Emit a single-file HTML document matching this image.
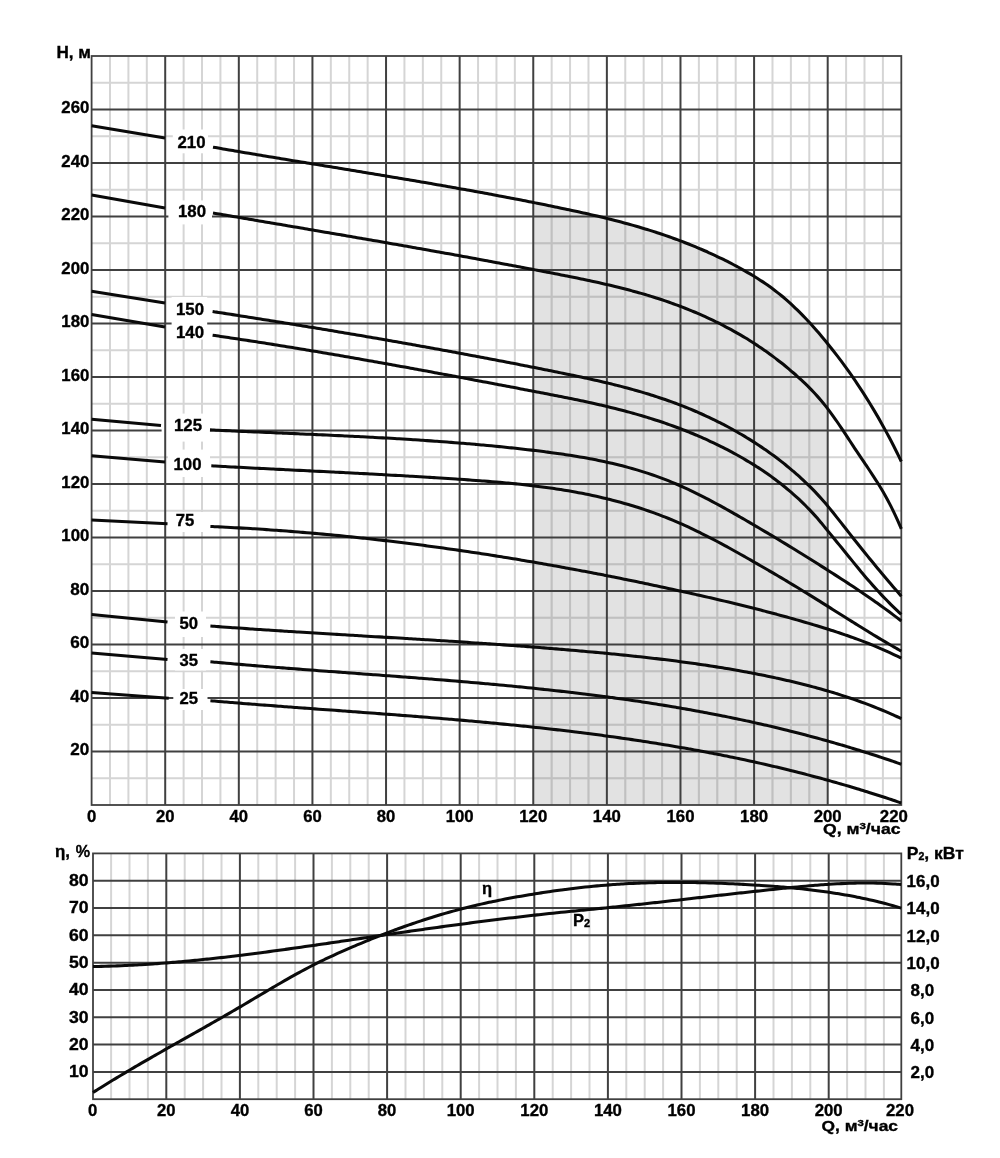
<!DOCTYPE html><html><head><meta charset="utf-8"><style>html,body{margin:0;padding:0;background:#fff;width:1000px;height:1158px;overflow:hidden}svg{display:block;filter:blur(0.55px)}</style></head><body><svg width="1000" height="1158" viewBox="0 0 1000 1158">
<rect x="0" y="0" width="1000" height="1158" fill="#fff"/>
<defs><clipPath id="shc"><path d="M213.00,147.17 C213.67,147.29 215.67,147.63 217.00,147.86 C218.34,148.09 219.67,148.33 221.00,148.56 C222.34,148.79 223.67,149.01 225.01,149.24 C226.34,149.47 227.67,149.70 229.01,149.93 C230.34,150.16 231.67,150.39 233.01,150.61 C234.34,150.84 235.68,151.07 237.01,151.29 C238.34,151.52 239.68,151.75 241.01,151.97 C242.35,152.20 243.68,152.43 245.01,152.65 C246.35,152.88 247.68,153.10 249.02,153.33 C250.35,153.55 251.68,153.78 253.02,154.00 C254.35,154.22 255.69,154.45 257.02,154.67 C258.35,154.89 259.69,155.12 261.02,155.34 C262.35,155.56 263.69,155.79 265.02,156.01 C266.36,156.23 267.69,156.45 269.02,156.67 C270.36,156.90 271.69,157.12 273.03,157.34 C274.36,157.56 275.69,157.78 277.03,158.00 C278.36,158.22 279.70,158.44 281.03,158.67 C282.36,158.89 283.70,159.11 285.03,159.33 C286.37,159.55 287.70,159.77 289.03,159.99 C290.37,160.21 291.70,160.43 293.03,160.65 C294.37,160.87 295.70,161.09 297.04,161.31 C298.37,161.52 299.70,161.74 301.04,161.96 C302.37,162.18 303.71,162.40 305.04,162.62 C306.37,162.84 307.71,163.06 309.04,163.28 C310.38,163.50 311.71,163.72 313.04,163.93 C314.38,164.15 315.71,164.37 317.05,164.59 C318.38,164.81 319.71,165.03 321.05,165.25 C322.38,165.47 323.71,165.68 325.05,165.90 C326.38,166.12 327.72,166.34 329.05,166.56 C330.38,166.78 331.72,167.00 333.05,167.21 C334.39,167.43 335.72,167.65 337.05,167.87 C338.39,168.09 339.72,168.31 341.06,168.53 C342.39,168.75 343.72,168.97 345.06,169.18 C346.39,169.40 347.73,169.62 349.06,169.84 C350.39,170.06 351.73,170.28 353.06,170.50 C354.39,170.72 355.73,170.94 357.06,171.16 C358.40,171.38 359.73,171.60 361.06,171.82 C362.40,172.04 363.73,172.26 365.07,172.48 C366.40,172.70 367.73,172.92 369.07,173.14 C370.40,173.36 371.74,173.58 373.07,173.81 C374.40,174.03 375.74,174.25 377.07,174.47 C378.41,174.69 379.74,174.91 381.07,175.14 C382.41,175.36 383.74,175.58 385.07,175.80 C386.41,176.03 387.74,176.25 389.08,176.47 C390.41,176.69 391.74,176.92 393.08,177.14 C394.41,177.37 395.75,177.59 397.08,177.81 C398.41,178.04 399.75,178.26 401.08,178.49 C402.42,178.71 403.75,178.94 405.08,179.16 C406.42,179.39 407.75,179.61 409.09,179.84 C410.42,180.07 411.75,180.29 413.09,180.52 C414.42,180.75 415.76,180.98 417.09,181.20 C418.42,181.43 419.76,181.66 421.09,181.89 C422.42,182.12 423.76,182.35 425.09,182.58 C426.43,182.81 427.76,183.04 429.09,183.27 C430.43,183.50 431.76,183.73 433.10,183.96 C434.43,184.19 435.76,184.42 437.10,184.65 C438.43,184.89 439.77,185.12 441.10,185.35 C442.43,185.58 443.77,185.82 445.10,186.05 C446.44,186.29 447.77,186.52 449.10,186.76 C450.44,186.99 451.77,187.23 453.10,187.46 C454.44,187.70 455.77,187.94 457.11,188.17 C458.44,188.41 459.77,188.65 461.11,188.89 C462.44,189.13 463.78,189.37 465.11,189.61 C466.44,189.85 467.78,190.09 469.11,190.33 C470.45,190.57 471.78,190.81 473.11,191.05 C474.45,191.29 475.78,191.54 477.12,191.78 C478.45,192.02 479.78,192.27 481.12,192.51 C482.45,192.76 483.78,193.00 485.12,193.25 C486.45,193.50 487.79,193.74 489.12,193.99 C490.45,194.24 491.79,194.49 493.12,194.74 C494.46,194.98 495.79,195.23 497.12,195.48 C498.46,195.74 499.79,195.99 501.13,196.24 C502.46,196.49 503.79,196.74 505.13,197.00 C506.46,197.25 507.80,197.50 509.13,197.76 C510.46,198.01 511.80,198.27 513.13,198.53 C514.46,198.78 515.80,199.04 517.13,199.30 C518.47,199.56 519.80,199.82 521.13,200.08 C522.47,200.34 523.80,200.60 525.14,200.86 C526.47,201.12 527.80,201.38 529.14,201.65 C530.47,201.91 531.81,202.17 533.14,202.44 C534.47,202.70 535.81,202.97 537.14,203.24 C538.48,203.50 539.81,203.77 541.14,204.04 C542.48,204.31 543.81,204.58 545.14,204.85 C546.48,205.12 547.81,205.39 549.15,205.66 C550.48,205.94 551.81,206.21 553.15,206.48 C554.48,206.76 555.82,207.03 557.15,207.31 C558.48,207.59 559.82,207.86 561.15,208.14 C562.49,208.42 563.82,208.70 565.15,208.98 C566.49,209.26 567.82,209.55 569.16,209.83 C570.49,210.12 571.82,210.40 573.16,210.69 C574.49,210.98 575.82,211.27 577.16,211.56 C578.49,211.85 579.83,212.14 581.16,212.44 C582.49,212.73 583.83,213.03 585.16,213.33 C586.50,213.63 587.83,213.93 589.16,214.24 C590.50,214.54 591.83,214.85 593.17,215.16 C594.50,215.47 595.83,215.78 597.17,216.09 C598.50,216.41 599.84,216.73 601.17,217.05 C602.50,217.37 603.84,217.69 605.17,218.02 C606.50,218.34 607.84,218.67 609.17,219.01 C610.51,219.34 611.84,219.68 613.17,220.02 C614.51,220.36 615.84,220.70 617.18,221.05 C618.51,221.39 619.84,221.74 621.18,222.10 C622.51,222.45 623.85,222.81 625.18,223.17 C626.51,223.53 627.85,223.90 629.18,224.27 C630.52,224.64 631.85,225.01 633.18,225.39 C634.52,225.77 635.85,226.15 637.18,226.54 C638.52,226.93 639.85,227.32 641.19,227.72 C642.52,228.11 643.85,228.52 645.19,228.92 C646.52,229.33 647.86,229.74 649.19,230.15 C650.52,230.57 651.86,230.99 653.19,231.42 C654.53,231.84 655.86,232.27 657.19,232.71 C658.53,233.15 659.86,233.59 661.20,234.04 C662.53,234.48 663.86,234.94 665.20,235.39 C666.53,235.85 667.86,236.32 669.20,236.79 C670.53,237.26 671.87,237.73 673.20,238.21 C674.53,238.70 675.87,239.18 677.20,239.68 C678.54,240.17 679.87,240.67 681.20,241.18 C682.54,241.68 683.87,242.20 685.21,242.72 C686.54,243.24 687.87,243.76 689.21,244.29 C690.54,244.83 691.88,245.37 693.21,245.91 C694.54,246.46 695.88,247.01 697.21,247.57 C698.54,248.13 699.88,248.70 701.21,249.27 C702.55,249.85 703.88,250.43 705.21,251.02 C706.55,251.60 707.88,252.20 709.22,252.80 C710.55,253.41 711.88,254.02 713.22,254.64 C714.55,255.26 715.89,255.88 717.22,256.52 C718.55,257.15 719.89,257.80 721.22,258.45 C722.56,259.10 723.89,259.75 725.22,260.42 C726.56,261.09 727.89,261.76 729.22,262.45 C730.56,263.13 731.89,263.82 733.23,264.52 C734.56,265.22 735.89,265.93 737.23,266.65 C738.56,267.37 739.90,268.09 741.23,268.83 C742.56,269.57 743.90,270.32 745.23,271.08 C746.57,271.84 747.90,272.61 749.23,273.40 C750.57,274.18 751.90,274.98 753.24,275.79 C754.57,276.61 755.90,277.44 757.24,278.28 C758.57,279.13 759.91,279.99 761.24,280.86 C762.57,281.74 763.91,282.64 765.24,283.55 C766.57,284.47 767.91,285.40 769.24,286.36 C770.58,287.31 771.91,288.29 773.24,289.28 C774.58,290.28 775.91,291.30 777.25,292.34 C778.58,293.38 779.91,294.44 781.25,295.53 C782.58,296.62 783.92,297.73 785.25,298.87 C786.58,300.01 787.92,301.18 789.25,302.37 C790.59,303.56 791.92,304.78 793.25,306.03 C794.59,307.28 795.92,308.55 797.25,309.85 C798.59,311.16 799.92,312.48 801.26,313.84 C802.59,315.19 803.92,316.57 805.26,317.98 C806.59,319.38 807.93,320.81 809.26,322.26 C810.59,323.71 811.93,325.19 813.26,326.69 C814.60,328.19 815.93,329.71 817.26,331.25 C818.60,332.79 819.93,334.36 821.27,335.94 C822.60,337.53 823.93,339.13 825.27,340.75 C826.60,342.38 827.93,344.02 829.27,345.68 C830.60,347.34 831.94,349.03 833.27,350.73 C834.60,352.43 835.94,354.15 837.27,355.89 C838.61,357.64 839.94,359.40 841.27,361.19 C842.61,362.98 843.94,364.79 845.28,366.62 C846.61,368.46 847.94,370.31 849.28,372.20 C850.61,374.08 851.95,375.99 853.28,377.93 C854.61,379.86 855.95,381.82 857.28,383.81 C858.61,385.80 859.95,387.82 861.28,389.87 C862.62,391.91 863.95,393.99 865.28,396.09 C866.62,398.20 867.95,400.33 869.29,402.50 C870.62,404.66 871.95,406.86 873.29,409.09 C874.62,411.32 875.96,413.58 877.29,415.88 C878.62,418.18 879.96,420.51 881.29,422.89 C882.63,425.26 883.96,427.66 885.29,430.11 C886.63,432.56 887.96,435.05 889.29,437.58 C890.63,440.10 891.96,442.67 893.30,445.29 C894.63,447.90 895.96,450.56 897.30,453.26 C898.63,455.96 900.63,460.13 901.30,461.51 L901.30,805.00 L212.50,805.00 Z"/></clipPath></defs>
<rect x="533.26" y="150" width="294.44" height="655" fill="#e2e2e2" clip-path="url(#shc)"/>
<g stroke="#d5d5d5" stroke-width="2"><line x1="110.00" y1="56.00" x2="110.00" y2="805.00"/><line x1="128.41" y1="56.00" x2="128.41" y2="805.00"/><line x1="146.81" y1="56.00" x2="146.81" y2="805.00"/><line x1="183.61" y1="56.00" x2="183.61" y2="805.00"/><line x1="202.01" y1="56.00" x2="202.01" y2="805.00"/><line x1="220.42" y1="56.00" x2="220.42" y2="805.00"/><line x1="257.22" y1="56.00" x2="257.22" y2="805.00"/><line x1="275.62" y1="56.00" x2="275.62" y2="805.00"/><line x1="294.03" y1="56.00" x2="294.03" y2="805.00"/><line x1="330.83" y1="56.00" x2="330.83" y2="805.00"/><line x1="349.24" y1="56.00" x2="349.24" y2="805.00"/><line x1="367.64" y1="56.00" x2="367.64" y2="805.00"/><line x1="404.44" y1="56.00" x2="404.44" y2="805.00"/><line x1="422.85" y1="56.00" x2="422.85" y2="805.00"/><line x1="441.25" y1="56.00" x2="441.25" y2="805.00"/><line x1="478.05" y1="56.00" x2="478.05" y2="805.00"/><line x1="496.45" y1="56.00" x2="496.45" y2="805.00"/><line x1="514.86" y1="56.00" x2="514.86" y2="805.00"/><line x1="551.66" y1="56.00" x2="551.66" y2="805.00"/><line x1="570.06" y1="56.00" x2="570.06" y2="805.00"/><line x1="588.47" y1="56.00" x2="588.47" y2="805.00"/><line x1="625.27" y1="56.00" x2="625.27" y2="805.00"/><line x1="643.67" y1="56.00" x2="643.67" y2="805.00"/><line x1="662.08" y1="56.00" x2="662.08" y2="805.00"/><line x1="698.88" y1="56.00" x2="698.88" y2="805.00"/><line x1="717.28" y1="56.00" x2="717.28" y2="805.00"/><line x1="735.69" y1="56.00" x2="735.69" y2="805.00"/><line x1="772.49" y1="56.00" x2="772.49" y2="805.00"/><line x1="790.89" y1="56.00" x2="790.89" y2="805.00"/><line x1="809.30" y1="56.00" x2="809.30" y2="805.00"/><line x1="846.10" y1="56.00" x2="846.10" y2="805.00"/><line x1="864.50" y1="56.00" x2="864.50" y2="805.00"/><line x1="882.91" y1="56.00" x2="882.91" y2="805.00"/><line x1="91.60" y1="778.25" x2="901.31" y2="778.25"/><line x1="91.60" y1="724.75" x2="901.31" y2="724.75"/><line x1="91.60" y1="671.25" x2="901.31" y2="671.25"/><line x1="91.60" y1="617.75" x2="901.31" y2="617.75"/><line x1="91.60" y1="564.25" x2="901.31" y2="564.25"/><line x1="91.60" y1="510.75" x2="901.31" y2="510.75"/><line x1="91.60" y1="457.25" x2="901.31" y2="457.25"/><line x1="91.60" y1="403.75" x2="901.31" y2="403.75"/><line x1="91.60" y1="350.25" x2="901.31" y2="350.25"/><line x1="91.60" y1="296.75" x2="901.31" y2="296.75"/><line x1="91.60" y1="243.25" x2="901.31" y2="243.25"/><line x1="91.60" y1="189.75" x2="901.31" y2="189.75"/><line x1="91.60" y1="136.25" x2="901.31" y2="136.25"/><line x1="91.60" y1="82.75" x2="901.31" y2="82.75"/></g>
<g stroke="#c0c0c0" stroke-width="2" clip-path="url(#shc)"><line x1="551.66" y1="150" x2="551.66" y2="805.00"/><line x1="570.06" y1="150" x2="570.06" y2="805.00"/><line x1="588.47" y1="150" x2="588.47" y2="805.00"/><line x1="625.27" y1="150" x2="625.27" y2="805.00"/><line x1="643.67" y1="150" x2="643.67" y2="805.00"/><line x1="662.08" y1="150" x2="662.08" y2="805.00"/><line x1="698.88" y1="150" x2="698.88" y2="805.00"/><line x1="717.28" y1="150" x2="717.28" y2="805.00"/><line x1="735.69" y1="150" x2="735.69" y2="805.00"/><line x1="772.49" y1="150" x2="772.49" y2="805.00"/><line x1="790.89" y1="150" x2="790.89" y2="805.00"/><line x1="809.30" y1="150" x2="809.30" y2="805.00"/><line x1="533.26" y1="778.25" x2="827.70" y2="778.25"/><line x1="533.26" y1="724.75" x2="827.70" y2="724.75"/><line x1="533.26" y1="671.25" x2="827.70" y2="671.25"/><line x1="533.26" y1="617.75" x2="827.70" y2="617.75"/><line x1="533.26" y1="564.25" x2="827.70" y2="564.25"/><line x1="533.26" y1="510.75" x2="827.70" y2="510.75"/><line x1="533.26" y1="457.25" x2="827.70" y2="457.25"/><line x1="533.26" y1="403.75" x2="827.70" y2="403.75"/><line x1="533.26" y1="350.25" x2="827.70" y2="350.25"/><line x1="533.26" y1="296.75" x2="827.70" y2="296.75"/><line x1="533.26" y1="243.25" x2="827.70" y2="243.25"/><line x1="533.26" y1="189.75" x2="827.70" y2="189.75"/><line x1="533.26" y1="136.25" x2="827.70" y2="136.25"/><line x1="533.26" y1="82.75" x2="827.70" y2="82.75"/></g>
<g stroke="#404040" stroke-width="2"><line x1="91.60" y1="751.50" x2="901.31" y2="751.50"/><line x1="91.60" y1="698.00" x2="901.31" y2="698.00"/><line x1="91.60" y1="644.50" x2="901.31" y2="644.50"/><line x1="91.60" y1="591.00" x2="901.31" y2="591.00"/><line x1="91.60" y1="537.50" x2="901.31" y2="537.50"/><line x1="91.60" y1="484.00" x2="901.31" y2="484.00"/><line x1="91.60" y1="430.50" x2="901.31" y2="430.50"/><line x1="91.60" y1="377.00" x2="901.31" y2="377.00"/><line x1="91.60" y1="323.50" x2="901.31" y2="323.50"/><line x1="91.60" y1="270.00" x2="901.31" y2="270.00"/><line x1="91.60" y1="216.50" x2="901.31" y2="216.50"/><line x1="91.60" y1="163.00" x2="901.31" y2="163.00"/><line x1="91.60" y1="109.50" x2="901.31" y2="109.50"/></g>
<rect x="172.8" y="129.5" width="35.2" height="23.8" fill="#fff"/>
<rect x="168.4" y="200.4" width="43.6" height="24.0" fill="#fff"/>
<rect x="171.6" y="297" width="35.6" height="42.5" fill="#fff"/>
<rect x="161.6" y="413.6" width="48.4" height="28.0" fill="#fff"/>
<rect x="168" y="449.6" width="42.0" height="27.4" fill="#fff"/>
<rect x="166" y="512" width="42.0" height="20.0" fill="#fff"/>
<rect x="175" y="611.5" width="31.0" height="25.5" fill="#fff"/>
<rect x="175" y="649" width="31.0" height="21.5" fill="#fff"/>
<rect x="173.3" y="689" width="34.2" height="21.0" fill="#fff"/>
<g stroke="#404040" stroke-width="2"><line x1="165.21" y1="56.00" x2="165.21" y2="805.00"/><line x1="238.82" y1="56.00" x2="238.82" y2="805.00"/><line x1="312.43" y1="56.00" x2="312.43" y2="805.00"/><line x1="386.04" y1="56.00" x2="386.04" y2="805.00"/><line x1="459.65" y1="56.00" x2="459.65" y2="805.00"/><line x1="533.26" y1="56.00" x2="533.26" y2="805.00"/><line x1="606.87" y1="56.00" x2="606.87" y2="805.00"/><line x1="680.48" y1="56.00" x2="680.48" y2="805.00"/><line x1="754.09" y1="56.00" x2="754.09" y2="805.00"/><line x1="827.70" y1="56.00" x2="827.70" y2="805.00"/></g>
<rect x="91.60" y="56.00" width="809.71" height="749.00" fill="none" stroke="#404040" stroke-width="1.8"/>
<g fill="none" stroke="#0a0a0a" stroke-width="3.05" stroke-linejoin="round"><path d="M91.60,125.75 L165.00,138.00"/><path d="M213.00,147.17 C213.67,147.29 215.67,147.63 217.00,147.86 C218.34,148.09 219.67,148.33 221.00,148.56 C222.34,148.79 223.67,149.01 225.01,149.24 C226.34,149.47 227.67,149.70 229.01,149.93 C230.34,150.16 231.67,150.39 233.01,150.61 C234.34,150.84 235.68,151.07 237.01,151.29 C238.34,151.52 239.68,151.75 241.01,151.97 C242.35,152.20 243.68,152.43 245.01,152.65 C246.35,152.88 247.68,153.10 249.02,153.33 C250.35,153.55 251.68,153.78 253.02,154.00 C254.35,154.22 255.69,154.45 257.02,154.67 C258.35,154.89 259.69,155.12 261.02,155.34 C262.35,155.56 263.69,155.79 265.02,156.01 C266.36,156.23 267.69,156.45 269.02,156.67 C270.36,156.90 271.69,157.12 273.03,157.34 C274.36,157.56 275.69,157.78 277.03,158.00 C278.36,158.22 279.70,158.44 281.03,158.67 C282.36,158.89 283.70,159.11 285.03,159.33 C286.37,159.55 287.70,159.77 289.03,159.99 C290.37,160.21 291.70,160.43 293.03,160.65 C294.37,160.87 295.70,161.09 297.04,161.31 C298.37,161.52 299.70,161.74 301.04,161.96 C302.37,162.18 303.71,162.40 305.04,162.62 C306.37,162.84 307.71,163.06 309.04,163.28 C310.38,163.50 311.71,163.72 313.04,163.93 C314.38,164.15 315.71,164.37 317.05,164.59 C318.38,164.81 319.71,165.03 321.05,165.25 C322.38,165.47 323.71,165.68 325.05,165.90 C326.38,166.12 327.72,166.34 329.05,166.56 C330.38,166.78 331.72,167.00 333.05,167.21 C334.39,167.43 335.72,167.65 337.05,167.87 C338.39,168.09 339.72,168.31 341.06,168.53 C342.39,168.75 343.72,168.97 345.06,169.18 C346.39,169.40 347.73,169.62 349.06,169.84 C350.39,170.06 351.73,170.28 353.06,170.50 C354.39,170.72 355.73,170.94 357.06,171.16 C358.40,171.38 359.73,171.60 361.06,171.82 C362.40,172.04 363.73,172.26 365.07,172.48 C366.40,172.70 367.73,172.92 369.07,173.14 C370.40,173.36 371.74,173.58 373.07,173.81 C374.40,174.03 375.74,174.25 377.07,174.47 C378.41,174.69 379.74,174.91 381.07,175.14 C382.41,175.36 383.74,175.58 385.07,175.80 C386.41,176.03 387.74,176.25 389.08,176.47 C390.41,176.69 391.74,176.92 393.08,177.14 C394.41,177.37 395.75,177.59 397.08,177.81 C398.41,178.04 399.75,178.26 401.08,178.49 C402.42,178.71 403.75,178.94 405.08,179.16 C406.42,179.39 407.75,179.61 409.09,179.84 C410.42,180.07 411.75,180.29 413.09,180.52 C414.42,180.75 415.76,180.98 417.09,181.20 C418.42,181.43 419.76,181.66 421.09,181.89 C422.42,182.12 423.76,182.35 425.09,182.58 C426.43,182.81 427.76,183.04 429.09,183.27 C430.43,183.50 431.76,183.73 433.10,183.96 C434.43,184.19 435.76,184.42 437.10,184.65 C438.43,184.89 439.77,185.12 441.10,185.35 C442.43,185.58 443.77,185.82 445.10,186.05 C446.44,186.29 447.77,186.52 449.10,186.76 C450.44,186.99 451.77,187.23 453.10,187.46 C454.44,187.70 455.77,187.94 457.11,188.17 C458.44,188.41 459.77,188.65 461.11,188.89 C462.44,189.13 463.78,189.37 465.11,189.61 C466.44,189.85 467.78,190.09 469.11,190.33 C470.45,190.57 471.78,190.81 473.11,191.05 C474.45,191.29 475.78,191.54 477.12,191.78 C478.45,192.02 479.78,192.27 481.12,192.51 C482.45,192.76 483.78,193.00 485.12,193.25 C486.45,193.50 487.79,193.74 489.12,193.99 C490.45,194.24 491.79,194.49 493.12,194.74 C494.46,194.98 495.79,195.23 497.12,195.48 C498.46,195.74 499.79,195.99 501.13,196.24 C502.46,196.49 503.79,196.74 505.13,197.00 C506.46,197.25 507.80,197.50 509.13,197.76 C510.46,198.01 511.80,198.27 513.13,198.53 C514.46,198.78 515.80,199.04 517.13,199.30 C518.47,199.56 519.80,199.82 521.13,200.08 C522.47,200.34 523.80,200.60 525.14,200.86 C526.47,201.12 527.80,201.38 529.14,201.65 C530.47,201.91 531.81,202.17 533.14,202.44 C534.47,202.70 535.81,202.97 537.14,203.24 C538.48,203.50 539.81,203.77 541.14,204.04 C542.48,204.31 543.81,204.58 545.14,204.85 C546.48,205.12 547.81,205.39 549.15,205.66 C550.48,205.94 551.81,206.21 553.15,206.48 C554.48,206.76 555.82,207.03 557.15,207.31 C558.48,207.59 559.82,207.86 561.15,208.14 C562.49,208.42 563.82,208.70 565.15,208.98 C566.49,209.26 567.82,209.55 569.16,209.83 C570.49,210.12 571.82,210.40 573.16,210.69 C574.49,210.98 575.82,211.27 577.16,211.56 C578.49,211.85 579.83,212.14 581.16,212.44 C582.49,212.73 583.83,213.03 585.16,213.33 C586.50,213.63 587.83,213.93 589.16,214.24 C590.50,214.54 591.83,214.85 593.17,215.16 C594.50,215.47 595.83,215.78 597.17,216.09 C598.50,216.41 599.84,216.73 601.17,217.05 C602.50,217.37 603.84,217.69 605.17,218.02 C606.50,218.34 607.84,218.67 609.17,219.01 C610.51,219.34 611.84,219.68 613.17,220.02 C614.51,220.36 615.84,220.70 617.18,221.05 C618.51,221.39 619.84,221.74 621.18,222.10 C622.51,222.45 623.85,222.81 625.18,223.17 C626.51,223.53 627.85,223.90 629.18,224.27 C630.52,224.64 631.85,225.01 633.18,225.39 C634.52,225.77 635.85,226.15 637.18,226.54 C638.52,226.93 639.85,227.32 641.19,227.72 C642.52,228.11 643.85,228.52 645.19,228.92 C646.52,229.33 647.86,229.74 649.19,230.15 C650.52,230.57 651.86,230.99 653.19,231.42 C654.53,231.84 655.86,232.27 657.19,232.71 C658.53,233.15 659.86,233.59 661.20,234.04 C662.53,234.48 663.86,234.94 665.20,235.39 C666.53,235.85 667.86,236.32 669.20,236.79 C670.53,237.26 671.87,237.73 673.20,238.21 C674.53,238.70 675.87,239.18 677.20,239.68 C678.54,240.17 679.87,240.67 681.20,241.18 C682.54,241.68 683.87,242.20 685.21,242.72 C686.54,243.24 687.87,243.76 689.21,244.29 C690.54,244.83 691.88,245.37 693.21,245.91 C694.54,246.46 695.88,247.01 697.21,247.57 C698.54,248.13 699.88,248.70 701.21,249.27 C702.55,249.85 703.88,250.43 705.21,251.02 C706.55,251.60 707.88,252.20 709.22,252.80 C710.55,253.41 711.88,254.02 713.22,254.64 C714.55,255.26 715.89,255.88 717.22,256.52 C718.55,257.15 719.89,257.80 721.22,258.45 C722.56,259.10 723.89,259.75 725.22,260.42 C726.56,261.09 727.89,261.76 729.22,262.45 C730.56,263.13 731.89,263.82 733.23,264.52 C734.56,265.22 735.89,265.93 737.23,266.65 C738.56,267.37 739.90,268.09 741.23,268.83 C742.56,269.57 743.90,270.32 745.23,271.08 C746.57,271.84 747.90,272.61 749.23,273.40 C750.57,274.18 751.90,274.98 753.24,275.79 C754.57,276.61 755.90,277.44 757.24,278.28 C758.57,279.13 759.91,279.99 761.24,280.86 C762.57,281.74 763.91,282.64 765.24,283.55 C766.57,284.47 767.91,285.40 769.24,286.36 C770.58,287.31 771.91,288.29 773.24,289.28 C774.58,290.28 775.91,291.30 777.25,292.34 C778.58,293.38 779.91,294.44 781.25,295.53 C782.58,296.62 783.92,297.73 785.25,298.87 C786.58,300.01 787.92,301.18 789.25,302.37 C790.59,303.56 791.92,304.78 793.25,306.03 C794.59,307.28 795.92,308.55 797.25,309.85 C798.59,311.16 799.92,312.48 801.26,313.84 C802.59,315.19 803.92,316.57 805.26,317.98 C806.59,319.38 807.93,320.81 809.26,322.26 C810.59,323.71 811.93,325.19 813.26,326.69 C814.60,328.19 815.93,329.71 817.26,331.25 C818.60,332.79 819.93,334.36 821.27,335.94 C822.60,337.53 823.93,339.13 825.27,340.75 C826.60,342.38 827.93,344.02 829.27,345.68 C830.60,347.34 831.94,349.03 833.27,350.73 C834.60,352.43 835.94,354.15 837.27,355.89 C838.61,357.64 839.94,359.40 841.27,361.19 C842.61,362.98 843.94,364.79 845.28,366.62 C846.61,368.46 847.94,370.31 849.28,372.20 C850.61,374.08 851.95,375.99 853.28,377.93 C854.61,379.86 855.95,381.82 857.28,383.81 C858.61,385.80 859.95,387.82 861.28,389.87 C862.62,391.91 863.95,393.99 865.28,396.09 C866.62,398.20 867.95,400.33 869.29,402.50 C870.62,404.66 871.95,406.86 873.29,409.09 C874.62,411.32 875.96,413.58 877.29,415.88 C878.62,418.18 879.96,420.51 881.29,422.89 C882.63,425.26 883.96,427.66 885.29,430.11 C886.63,432.56 887.96,435.05 889.29,437.58 C890.63,440.10 891.96,442.67 893.30,445.29 C894.63,447.90 895.96,450.56 897.30,453.26 C898.63,455.96 900.63,460.13 901.30,461.51"/><path d="M91.60,195.00 L165.00,208.00"/><path d="M213.00,213.00 C213.67,213.12 215.67,213.46 217.00,213.69 C218.34,213.91 219.67,214.14 221.00,214.37 C222.34,214.60 223.67,214.83 225.01,215.06 C226.34,215.28 227.67,215.51 229.01,215.74 C230.34,215.97 231.67,216.19 233.01,216.42 C234.34,216.65 235.68,216.88 237.01,217.11 C238.34,217.33 239.68,217.56 241.01,217.79 C242.35,218.02 243.68,218.24 245.01,218.47 C246.35,218.70 247.68,218.93 249.02,219.15 C250.35,219.38 251.68,219.61 253.02,219.83 C254.35,220.06 255.69,220.29 257.02,220.52 C258.35,220.74 259.69,220.97 261.02,221.20 C262.35,221.43 263.69,221.65 265.02,221.88 C266.36,222.11 267.69,222.33 269.02,222.56 C270.36,222.79 271.69,223.02 273.03,223.24 C274.36,223.47 275.69,223.70 277.03,223.93 C278.36,224.15 279.70,224.38 281.03,224.61 C282.36,224.83 283.70,225.06 285.03,225.29 C286.37,225.52 287.70,225.74 289.03,225.97 C290.37,226.20 291.70,226.43 293.03,226.65 C294.37,226.88 295.70,227.11 297.04,227.34 C298.37,227.56 299.70,227.79 301.04,228.02 C302.37,228.25 303.71,228.48 305.04,228.70 C306.37,228.93 307.71,229.16 309.04,229.39 C310.38,229.61 311.71,229.84 313.04,230.07 C314.38,230.30 315.71,230.53 317.05,230.76 C318.38,230.98 319.71,231.21 321.05,231.44 C322.38,231.67 323.71,231.90 325.05,232.13 C326.38,232.35 327.72,232.58 329.05,232.81 C330.38,233.04 331.72,233.27 333.05,233.50 C334.39,233.73 335.72,233.96 337.05,234.19 C338.39,234.42 339.72,234.64 341.06,234.87 C342.39,235.10 343.72,235.33 345.06,235.56 C346.39,235.79 347.73,236.02 349.06,236.25 C350.39,236.48 351.73,236.71 353.06,236.94 C354.39,237.17 355.73,237.40 357.06,237.63 C358.40,237.86 359.73,238.09 361.06,238.33 C362.40,238.56 363.73,238.79 365.07,239.02 C366.40,239.25 367.73,239.48 369.07,239.71 C370.40,239.94 371.74,240.18 373.07,240.41 C374.40,240.64 375.74,240.87 377.07,241.10 C378.41,241.34 379.74,241.57 381.07,241.80 C382.41,242.03 383.74,242.27 385.07,242.50 C386.41,242.73 387.74,242.96 389.08,243.20 C390.41,243.43 391.74,243.66 393.08,243.90 C394.41,244.13 395.75,244.36 397.08,244.60 C398.41,244.83 399.75,245.07 401.08,245.30 C402.42,245.54 403.75,245.77 405.08,246.01 C406.42,246.24 407.75,246.48 409.09,246.71 C410.42,246.95 411.75,247.18 413.09,247.42 C414.42,247.65 415.76,247.89 417.09,248.13 C418.42,248.36 419.76,248.60 421.09,248.84 C422.42,249.07 423.76,249.31 425.09,249.55 C426.43,249.78 427.76,250.02 429.09,250.26 C430.43,250.50 431.76,250.74 433.10,250.97 C434.43,251.21 435.76,251.45 437.10,251.69 C438.43,251.93 439.77,252.17 441.10,252.41 C442.43,252.65 443.77,252.89 445.10,253.13 C446.44,253.37 447.77,253.61 449.10,253.85 C450.44,254.09 451.77,254.33 453.10,254.57 C454.44,254.81 455.77,255.05 457.11,255.30 C458.44,255.54 459.77,255.78 461.11,256.02 C462.44,256.26 463.78,256.51 465.11,256.75 C466.44,256.99 467.78,257.24 469.11,257.48 C470.45,257.72 471.78,257.97 473.11,258.21 C474.45,258.46 475.78,258.70 477.12,258.95 C478.45,259.19 479.78,259.44 481.12,259.68 C482.45,259.93 483.78,260.18 485.12,260.42 C486.45,260.67 487.79,260.91 489.12,261.16 C490.45,261.41 491.79,261.66 493.12,261.90 C494.46,262.15 495.79,262.40 497.12,262.65 C498.46,262.90 499.79,263.15 501.13,263.40 C502.46,263.65 503.79,263.90 505.13,264.15 C506.46,264.40 507.80,264.65 509.13,264.90 C510.46,265.15 511.80,265.40 513.13,265.65 C514.46,265.90 515.80,266.15 517.13,266.41 C518.47,266.66 519.80,266.91 521.13,267.17 C522.47,267.42 523.80,267.67 525.14,267.93 C526.47,268.18 527.80,268.44 529.14,268.69 C530.47,268.95 531.81,269.20 533.14,269.46 C534.47,269.71 535.81,269.97 537.14,270.23 C538.48,270.48 539.81,270.74 541.14,271.00 C542.48,271.26 543.81,271.51 545.14,271.77 C546.48,272.03 547.81,272.29 549.15,272.55 C550.48,272.81 551.81,273.07 553.15,273.33 C554.48,273.59 555.82,273.85 557.15,274.11 C558.48,274.37 559.82,274.63 561.15,274.90 C562.49,275.16 563.82,275.42 565.15,275.69 C566.49,275.95 567.82,276.22 569.16,276.48 C570.49,276.75 571.82,277.02 573.16,277.29 C574.49,277.56 575.82,277.83 577.16,278.10 C578.49,278.37 579.83,278.65 581.16,278.92 C582.49,279.20 583.83,279.48 585.16,279.76 C586.50,280.04 587.83,280.32 589.16,280.61 C590.50,280.89 591.83,281.18 593.17,281.47 C594.50,281.76 595.83,282.05 597.17,282.35 C598.50,282.64 599.84,282.94 601.17,283.24 C602.50,283.54 603.84,283.85 605.17,284.15 C606.50,284.46 607.84,284.77 609.17,285.08 C610.51,285.40 611.84,285.72 613.17,286.04 C614.51,286.36 615.84,286.68 617.18,287.01 C618.51,287.34 619.84,287.67 621.18,288.01 C622.51,288.35 623.85,288.69 625.18,289.03 C626.51,289.38 627.85,289.73 629.18,290.08 C630.52,290.43 631.85,290.79 633.18,291.16 C634.52,291.52 635.85,291.89 637.18,292.26 C638.52,292.63 639.85,293.01 641.19,293.40 C642.52,293.78 643.85,294.17 645.19,294.56 C646.52,294.96 647.86,295.36 649.19,295.76 C650.52,296.17 651.86,296.58 653.19,296.99 C654.53,297.41 655.86,297.83 657.19,298.26 C658.53,298.69 659.86,299.13 661.20,299.57 C662.53,300.01 663.86,300.46 665.20,300.91 C666.53,301.37 667.86,301.83 669.20,302.29 C670.53,302.76 671.87,303.24 673.20,303.72 C674.53,304.20 675.87,304.69 677.20,305.18 C678.54,305.68 679.87,306.18 681.20,306.69 C682.54,307.20 683.87,307.72 685.21,308.25 C686.54,308.77 687.87,309.30 689.21,309.84 C690.54,310.39 691.88,310.93 693.21,311.49 C694.54,312.05 695.88,312.61 697.21,313.19 C698.54,313.76 699.88,314.34 701.21,314.93 C702.55,315.52 703.88,316.12 705.21,316.73 C706.55,317.34 707.88,317.95 709.22,318.58 C710.55,319.20 711.88,319.84 713.22,320.48 C714.55,321.13 715.89,321.78 717.22,322.44 C718.55,323.10 719.89,323.77 721.22,324.46 C722.56,325.14 723.89,325.83 725.22,326.53 C726.56,327.23 727.89,327.94 729.22,328.66 C730.56,329.38 731.89,330.11 733.23,330.86 C734.56,331.60 735.89,332.35 737.23,333.11 C738.56,333.87 739.90,334.65 741.23,335.43 C742.56,336.21 743.90,337.01 745.23,337.82 C746.57,338.62 747.90,339.44 749.23,340.27 C750.57,341.10 751.90,341.94 753.24,342.80 C754.57,343.66 755.90,344.52 757.24,345.40 C758.57,346.29 759.91,347.18 761.24,348.09 C762.57,349.00 763.91,349.92 765.24,350.85 C766.57,351.79 767.91,352.74 769.24,353.70 C770.58,354.67 771.91,355.65 773.24,356.64 C774.58,357.64 775.91,358.64 777.25,359.67 C778.58,360.69 779.91,361.73 781.25,362.79 C782.58,363.85 783.92,364.92 785.25,366.01 C786.58,367.10 787.92,368.21 789.25,369.33 C790.59,370.45 791.92,371.59 793.25,372.75 C794.59,373.91 795.92,375.08 797.25,376.28 C798.59,377.47 799.92,378.68 801.26,379.92 C802.59,381.15 803.92,382.41 805.26,383.69 C806.59,384.98 807.93,386.29 809.26,387.64 C810.59,388.98 811.93,390.36 813.26,391.77 C814.60,393.19 815.93,394.64 817.26,396.13 C818.60,397.63 819.93,399.16 821.27,400.74 C822.60,402.32 823.93,403.94 825.27,405.62 C826.60,407.30 827.93,409.03 829.27,410.81 C830.60,412.58 831.94,414.42 833.27,416.29 C834.60,418.15 835.94,420.07 837.27,422.01 C838.61,423.95 839.94,425.92 841.27,427.91 C842.61,429.90 843.94,431.92 845.28,433.94 C846.61,435.96 847.94,438.00 849.28,440.03 C850.61,442.07 851.95,444.11 853.28,446.14 C854.61,448.16 855.95,450.19 857.28,452.19 C858.61,454.19 859.95,456.17 861.28,458.14 C862.62,460.12 863.95,462.08 865.28,464.05 C866.62,466.02 867.95,467.99 869.29,469.99 C870.62,471.99 871.95,473.99 873.29,476.04 C874.62,478.09 875.96,480.17 877.29,482.30 C878.62,484.43 879.96,486.60 881.29,488.84 C882.63,491.09 883.96,493.38 885.29,495.76 C886.63,498.14 887.96,500.58 889.29,503.13 C890.63,505.68 891.96,508.31 893.30,511.05 C894.63,513.80 895.96,516.63 897.30,519.60 C898.63,522.57 900.63,527.32 901.30,528.87"/><path d="M91.60,291.25 L165.00,303.00"/><path d="M212.60,311.50 C213.27,311.61 215.27,311.92 216.60,312.13 C217.94,312.33 219.27,312.54 220.61,312.75 C221.94,312.96 223.28,313.17 224.61,313.38 C225.95,313.59 227.28,313.80 228.62,314.01 C229.95,314.22 231.29,314.42 232.62,314.63 C233.96,314.84 235.29,315.06 236.62,315.27 C237.96,315.48 239.29,315.69 240.63,315.90 C241.96,316.11 243.30,316.32 244.63,316.53 C245.97,316.74 247.30,316.95 248.64,317.17 C249.97,317.38 251.31,317.59 252.64,317.80 C253.98,318.01 255.31,318.23 256.64,318.44 C257.98,318.65 259.31,318.87 260.65,319.08 C261.98,319.29 263.32,319.51 264.65,319.72 C265.99,319.93 267.32,320.15 268.66,320.36 C269.99,320.58 271.33,320.79 272.66,321.01 C274.00,321.22 275.33,321.44 276.67,321.65 C278.00,321.87 279.33,322.08 280.67,322.30 C282.00,322.52 283.34,322.73 284.67,322.95 C286.01,323.16 287.34,323.38 288.68,323.60 C290.01,323.82 291.35,324.03 292.68,324.25 C294.02,324.47 295.35,324.69 296.69,324.90 C298.02,325.12 299.35,325.34 300.69,325.56 C302.02,325.78 303.36,326.00 304.69,326.22 C306.03,326.44 307.36,326.66 308.70,326.88 C310.03,327.10 311.37,327.32 312.70,327.54 C314.04,327.76 315.37,327.98 316.71,328.20 C318.04,328.42 319.38,328.64 320.71,328.86 C322.04,329.09 323.38,329.31 324.71,329.53 C326.05,329.75 327.38,329.98 328.72,330.20 C330.05,330.42 331.39,330.65 332.72,330.87 C334.06,331.09 335.39,331.32 336.73,331.54 C338.06,331.77 339.40,331.99 340.73,332.22 C342.06,332.44 343.40,332.67 344.73,332.89 C346.07,333.12 347.40,333.34 348.74,333.57 C350.07,333.80 351.41,334.02 352.74,334.25 C354.08,334.48 355.41,334.70 356.75,334.93 C358.08,335.16 359.42,335.39 360.75,335.61 C362.09,335.84 363.42,336.07 364.75,336.30 C366.09,336.53 367.42,336.76 368.76,336.99 C370.09,337.22 371.43,337.45 372.76,337.68 C374.10,337.91 375.43,338.14 376.77,338.37 C378.10,338.60 379.44,338.83 380.77,339.07 C382.11,339.30 383.44,339.53 384.77,339.76 C386.11,339.99 387.44,340.23 388.78,340.46 C390.11,340.69 391.45,340.93 392.78,341.16 C394.12,341.40 395.45,341.63 396.79,341.86 C398.12,342.10 399.46,342.33 400.79,342.57 C402.13,342.81 403.46,343.04 404.80,343.28 C406.13,343.51 407.46,343.75 408.80,343.99 C410.13,344.22 411.47,344.46 412.80,344.70 C414.14,344.94 415.47,345.18 416.81,345.41 C418.14,345.65 419.48,345.89 420.81,346.13 C422.15,346.37 423.48,346.61 424.82,346.85 C426.15,347.09 427.49,347.33 428.82,347.57 C430.15,347.81 431.49,348.05 432.82,348.30 C434.16,348.54 435.49,348.78 436.83,349.02 C438.16,349.27 439.50,349.51 440.83,349.75 C442.17,350.00 443.50,350.24 444.84,350.48 C446.17,350.73 447.51,350.97 448.84,351.22 C450.17,351.46 451.51,351.71 452.84,351.95 C454.18,352.20 455.51,352.45 456.85,352.69 C458.18,352.94 459.52,353.19 460.85,353.43 C462.19,353.68 463.52,353.93 464.86,354.18 C466.19,354.43 467.53,354.68 468.86,354.93 C470.20,355.17 471.53,355.42 472.86,355.67 C474.20,355.93 475.53,356.18 476.87,356.43 C478.20,356.68 479.54,356.93 480.87,357.18 C482.21,357.43 483.54,357.69 484.88,357.94 C486.21,358.19 487.55,358.45 488.88,358.70 C490.22,358.95 491.55,359.21 492.88,359.46 C494.22,359.72 495.55,359.97 496.89,360.23 C498.22,360.48 499.56,360.74 500.89,361.00 C502.23,361.25 503.56,361.51 504.90,361.77 C506.23,362.02 507.57,362.28 508.90,362.54 C510.24,362.80 511.57,363.06 512.91,363.32 C514.24,363.58 515.57,363.84 516.91,364.10 C518.24,364.36 519.58,364.62 520.91,364.88 C522.25,365.14 523.58,365.40 524.92,365.67 C526.25,365.93 527.59,366.19 528.92,366.45 C530.26,366.72 531.59,366.98 532.93,367.24 C534.26,367.51 535.59,367.77 536.93,368.04 C538.26,368.30 539.60,368.57 540.93,368.84 C542.27,369.10 543.60,369.37 544.94,369.64 C546.27,369.90 547.61,370.17 548.94,370.44 C550.28,370.71 551.61,370.98 552.95,371.25 C554.28,371.51 555.62,371.78 556.95,372.05 C558.28,372.33 559.62,372.60 560.95,372.87 C562.29,373.14 563.62,373.41 564.96,373.69 C566.29,373.96 567.63,374.23 568.96,374.51 C570.30,374.79 571.63,375.06 572.97,375.34 C574.30,375.62 575.64,375.90 576.97,376.18 C578.31,376.47 579.64,376.75 580.97,377.03 C582.31,377.32 583.64,377.61 584.98,377.90 C586.31,378.19 587.65,378.48 588.98,378.77 C590.32,379.07 591.65,379.36 592.99,379.66 C594.32,379.96 595.66,380.26 596.99,380.57 C598.33,380.87 599.66,381.18 600.99,381.49 C602.33,381.80 603.66,382.11 605.00,382.43 C606.33,382.74 607.67,383.06 609.00,383.39 C610.34,383.71 611.67,384.03 613.01,384.36 C614.34,384.69 615.68,385.03 617.01,385.37 C618.35,385.70 619.68,386.04 621.02,386.39 C622.35,386.73 623.68,387.08 625.02,387.44 C626.35,387.79 627.69,388.15 629.02,388.51 C630.36,388.87 631.69,389.24 633.03,389.61 C634.36,389.99 635.70,390.36 637.03,390.74 C638.37,391.12 639.70,391.51 641.04,391.90 C642.37,392.29 643.70,392.69 645.04,393.09 C646.37,393.49 647.71,393.90 649.04,394.31 C650.38,394.73 651.71,395.15 653.05,395.57 C654.38,396.00 655.72,396.43 657.05,396.86 C658.39,397.30 659.72,397.74 661.06,398.19 C662.39,398.64 663.73,399.09 665.06,399.55 C666.39,400.01 667.73,400.48 669.06,400.96 C670.40,401.43 671.73,401.91 673.07,402.40 C674.40,402.89 675.74,403.38 677.07,403.88 C678.41,404.38 679.74,404.89 681.08,405.41 C682.41,405.92 683.75,406.45 685.08,406.98 C686.41,407.51 687.75,408.05 689.08,408.59 C690.42,409.14 691.75,409.70 693.09,410.26 C694.42,410.82 695.76,411.39 697.09,411.97 C698.43,412.55 699.76,413.13 701.10,413.73 C702.43,414.32 703.77,414.92 705.10,415.54 C706.44,416.15 707.77,416.77 709.10,417.40 C710.44,418.03 711.77,418.66 713.11,419.31 C714.44,419.96 715.78,420.61 717.11,421.28 C718.45,421.94 719.78,422.62 721.12,423.30 C722.45,423.99 723.79,424.68 725.12,425.38 C726.46,426.09 727.79,426.80 729.12,427.52 C730.46,428.24 731.79,428.98 733.13,429.72 C734.46,430.46 735.80,431.21 737.13,431.98 C738.47,432.74 739.80,433.51 741.14,434.30 C742.47,435.08 743.81,435.88 745.14,436.68 C746.48,437.49 747.81,438.30 749.15,439.13 C750.48,439.96 751.81,440.80 753.15,441.65 C754.48,442.50 755.82,443.36 757.15,444.23 C758.49,445.10 759.82,445.98 761.16,446.88 C762.49,447.78 763.83,448.69 765.16,449.61 C766.50,450.53 767.83,451.47 769.17,452.42 C770.50,453.37 771.84,454.33 773.17,455.31 C774.50,456.29 775.84,457.29 777.17,458.30 C778.51,459.31 779.84,460.33 781.18,461.37 C782.51,462.42 783.85,463.47 785.18,464.55 C786.52,465.62 787.85,466.72 789.19,467.83 C790.52,468.94 791.86,470.07 793.19,471.21 C794.52,472.36 795.86,473.53 797.19,474.71 C798.53,475.90 799.86,477.10 801.20,478.33 C802.53,479.55 803.87,480.80 805.20,482.06 C806.54,483.33 807.87,484.62 809.21,485.93 C810.54,487.24 811.88,488.56 813.21,489.93 C814.55,491.29 815.88,492.68 817.21,494.10 C818.55,495.53 819.88,496.99 821.22,498.49 C822.55,499.99 823.89,501.53 825.22,503.09 C826.56,504.65 827.89,506.25 829.23,507.87 C830.56,509.49 831.90,511.14 833.23,512.80 C834.57,514.46 835.90,516.14 837.23,517.83 C838.57,519.52 839.90,521.23 841.24,522.93 C842.57,524.63 843.91,526.35 845.24,528.05 C846.58,529.75 847.91,531.46 849.25,533.15 C850.58,534.85 851.92,536.54 853.25,538.23 C854.59,539.91 855.92,541.59 857.26,543.27 C858.59,544.94 859.92,546.61 861.26,548.27 C862.59,549.94 863.93,551.60 865.26,553.25 C866.60,554.90 867.93,556.54 869.27,558.18 C870.60,559.82 871.94,561.46 873.27,563.08 C874.61,564.71 875.94,566.33 877.28,567.94 C878.61,569.56 879.94,571.16 881.28,572.76 C882.61,574.36 883.95,575.95 885.28,577.54 C886.62,579.12 887.95,580.70 889.29,582.27 C890.62,583.84 891.96,585.41 893.29,586.96 C894.63,588.52 895.96,590.07 897.30,591.61 C898.63,593.15 900.63,595.44 901.30,596.20"/><path d="M91.60,314.50 L165.00,327.00"/><path d="M212.60,335.24 C213.27,335.34 215.27,335.63 216.60,335.82 C217.94,336.02 219.27,336.21 220.61,336.41 C221.94,336.60 223.28,336.80 224.61,337.00 C225.95,337.19 227.28,337.39 228.62,337.59 C229.95,337.79 231.29,337.99 232.62,338.19 C233.96,338.39 235.29,338.59 236.62,338.79 C237.96,338.99 239.29,339.19 240.63,339.39 C241.96,339.60 243.30,339.80 244.63,340.00 C245.97,340.21 247.30,340.41 248.64,340.62 C249.97,340.82 251.31,341.03 252.64,341.24 C253.98,341.44 255.31,341.65 256.64,341.86 C257.98,342.06 259.31,342.27 260.65,342.48 C261.98,342.69 263.32,342.90 264.65,343.11 C265.99,343.32 267.32,343.53 268.66,343.74 C269.99,343.96 271.33,344.17 272.66,344.38 C274.00,344.59 275.33,344.81 276.67,345.02 C278.00,345.23 279.33,345.45 280.67,345.66 C282.00,345.88 283.34,346.10 284.67,346.31 C286.01,346.53 287.34,346.74 288.68,346.96 C290.01,347.18 291.35,347.40 292.68,347.62 C294.02,347.83 295.35,348.05 296.69,348.27 C298.02,348.49 299.35,348.71 300.69,348.93 C302.02,349.16 303.36,349.38 304.69,349.60 C306.03,349.82 307.36,350.04 308.70,350.27 C310.03,350.49 311.37,350.71 312.70,350.94 C314.04,351.16 315.37,351.38 316.71,351.61 C318.04,351.83 319.38,352.06 320.71,352.29 C322.04,352.51 323.38,352.74 324.71,352.97 C326.05,353.19 327.38,353.42 328.72,353.65 C330.05,353.88 331.39,354.11 332.72,354.33 C334.06,354.56 335.39,354.79 336.73,355.02 C338.06,355.25 339.40,355.48 340.73,355.71 C342.06,355.94 343.40,356.18 344.73,356.41 C346.07,356.64 347.40,356.87 348.74,357.10 C350.07,357.34 351.41,357.57 352.74,357.80 C354.08,358.04 355.41,358.27 356.75,358.50 C358.08,358.74 359.42,358.97 360.75,359.21 C362.09,359.44 363.42,359.68 364.75,359.92 C366.09,360.15 367.42,360.39 368.76,360.63 C370.09,360.86 371.43,361.10 372.76,361.34 C374.10,361.57 375.43,361.81 376.77,362.05 C378.10,362.29 379.44,362.53 380.77,362.77 C382.11,363.01 383.44,363.25 384.77,363.49 C386.11,363.73 387.44,363.97 388.78,364.21 C390.11,364.45 391.45,364.69 392.78,364.93 C394.12,365.17 395.45,365.41 396.79,365.65 C398.12,365.90 399.46,366.14 400.79,366.38 C402.13,366.62 403.46,366.87 404.80,367.11 C406.13,367.35 407.46,367.60 408.80,367.84 C410.13,368.09 411.47,368.33 412.80,368.57 C414.14,368.82 415.47,369.06 416.81,369.31 C418.14,369.55 419.48,369.80 420.81,370.04 C422.15,370.29 423.48,370.54 424.82,370.78 C426.15,371.03 427.49,371.28 428.82,371.52 C430.15,371.77 431.49,372.02 432.82,372.26 C434.16,372.51 435.49,372.76 436.83,373.01 C438.16,373.25 439.50,373.50 440.83,373.75 C442.17,374.00 443.50,374.25 444.84,374.50 C446.17,374.75 447.51,375.00 448.84,375.24 C450.17,375.49 451.51,375.74 452.84,375.99 C454.18,376.24 455.51,376.49 456.85,376.74 C458.18,376.99 459.52,377.24 460.85,377.49 C462.19,377.74 463.52,378.00 464.86,378.25 C466.19,378.50 467.53,378.75 468.86,379.00 C470.20,379.25 471.53,379.50 472.86,379.75 C474.20,380.01 475.53,380.26 476.87,380.51 C478.20,380.76 479.54,381.01 480.87,381.27 C482.21,381.52 483.54,381.77 484.88,382.02 C486.21,382.28 487.55,382.53 488.88,382.78 C490.22,383.04 491.55,383.29 492.88,383.54 C494.22,383.80 495.55,384.05 496.89,384.30 C498.22,384.56 499.56,384.81 500.89,385.06 C502.23,385.32 503.56,385.57 504.90,385.82 C506.23,386.08 507.57,386.33 508.90,386.59 C510.24,386.84 511.57,387.10 512.91,387.35 C514.24,387.60 515.57,387.86 516.91,388.11 C518.24,388.37 519.58,388.62 520.91,388.88 C522.25,389.13 523.58,389.39 524.92,389.64 C526.25,389.90 527.59,390.15 528.92,390.41 C530.26,390.66 531.59,390.92 532.93,391.17 C534.26,391.43 535.59,391.68 536.93,391.94 C538.26,392.19 539.60,392.45 540.93,392.70 C542.27,392.96 543.60,393.21 544.94,393.47 C546.27,393.73 547.61,393.99 548.94,394.24 C550.28,394.50 551.61,394.76 552.95,395.02 C554.28,395.28 555.62,395.54 556.95,395.80 C558.28,396.07 559.62,396.33 560.95,396.59 C562.29,396.86 563.62,397.12 564.96,397.39 C566.29,397.66 567.63,397.93 568.96,398.20 C570.30,398.47 571.63,398.74 572.97,399.02 C574.30,399.29 575.64,399.57 576.97,399.84 C578.31,400.12 579.64,400.40 580.97,400.68 C582.31,400.97 583.64,401.25 584.98,401.54 C586.31,401.83 587.65,402.11 588.98,402.41 C590.32,402.70 591.65,402.99 592.99,403.29 C594.32,403.59 595.66,403.89 596.99,404.19 C598.33,404.50 599.66,404.80 600.99,405.11 C602.33,405.42 603.66,405.73 605.00,406.05 C606.33,406.37 607.67,406.69 609.00,407.01 C610.34,407.33 611.67,407.66 613.01,407.99 C614.34,408.32 615.68,408.65 617.01,408.99 C618.35,409.33 619.68,409.67 621.02,410.02 C622.35,410.36 623.68,410.71 625.02,411.07 C626.35,411.42 627.69,411.78 629.02,412.14 C630.36,412.51 631.69,412.87 633.03,413.25 C634.36,413.62 635.70,414.00 637.03,414.38 C638.37,414.76 639.70,415.15 641.04,415.54 C642.37,415.93 643.70,416.33 645.04,416.73 C646.37,417.13 647.71,417.54 649.04,417.95 C650.38,418.36 651.71,418.78 653.05,419.21 C654.38,419.63 655.72,420.06 657.05,420.49 C658.39,420.93 659.72,421.37 661.06,421.82 C662.39,422.26 663.73,422.72 665.06,423.17 C666.39,423.63 667.73,424.10 669.06,424.57 C670.40,425.04 671.73,425.52 673.07,426.00 C674.40,426.49 675.74,426.98 677.07,427.47 C678.41,427.97 679.74,428.48 681.08,428.99 C682.41,429.50 683.75,430.02 685.08,430.54 C686.41,431.07 687.75,431.60 689.08,432.14 C690.42,432.68 691.75,433.22 693.09,433.78 C694.42,434.33 695.76,434.89 697.09,435.46 C698.43,436.03 699.76,436.61 701.10,437.19 C702.43,437.78 703.77,438.37 705.10,438.97 C706.44,439.57 707.77,440.18 709.10,440.80 C710.44,441.41 711.77,442.04 713.11,442.67 C714.44,443.30 715.78,443.94 717.11,444.59 C718.45,445.24 719.78,445.90 721.12,446.57 C722.45,447.24 723.79,447.91 725.12,448.60 C726.46,449.28 727.79,449.98 729.12,450.68 C730.46,451.38 731.79,452.10 733.13,452.82 C734.46,453.54 735.80,454.27 737.13,455.01 C738.47,455.75 739.80,456.50 741.14,457.26 C742.47,458.02 743.81,458.79 745.14,459.58 C746.48,460.36 747.81,461.15 749.15,461.96 C750.48,462.77 751.81,463.58 753.15,464.41 C754.48,465.25 755.82,466.09 757.15,466.95 C758.49,467.81 759.82,468.68 761.16,469.56 C762.49,470.45 763.83,471.35 765.16,472.27 C766.50,473.18 767.83,474.11 769.17,475.06 C770.50,476.01 771.84,476.97 773.17,477.95 C774.50,478.93 775.84,479.93 777.17,480.95 C778.51,481.96 779.84,482.99 781.18,484.05 C782.51,485.10 783.85,486.17 785.18,487.26 C786.52,488.35 787.85,489.46 789.19,490.58 C790.52,491.71 791.86,492.86 793.19,494.03 C794.52,495.21 795.86,496.40 797.19,497.61 C798.53,498.83 799.86,500.07 801.20,501.35 C802.53,502.62 803.87,503.91 805.20,505.24 C806.54,506.57 807.87,507.93 809.21,509.32 C810.54,510.72 811.88,512.14 813.21,513.60 C814.55,515.07 815.88,516.57 817.21,518.10 C818.55,519.64 819.88,521.23 821.22,522.83 C822.55,524.44 823.89,526.09 825.22,527.73 C826.56,529.37 827.89,531.02 829.23,532.66 C830.56,534.30 831.90,535.93 833.23,537.56 C834.57,539.19 835.90,540.82 837.23,542.45 C838.57,544.08 839.90,545.70 841.24,547.33 C842.57,548.96 843.91,550.60 845.24,552.24 C846.58,553.88 847.91,555.53 849.25,557.18 C850.58,558.83 851.92,560.48 853.25,562.13 C854.59,563.78 855.92,565.43 857.26,567.06 C858.59,568.70 859.92,570.33 861.26,571.94 C862.59,573.54 863.93,575.14 865.26,576.71 C866.60,578.28 867.93,579.83 869.27,581.36 C870.60,582.89 871.94,584.40 873.27,585.89 C874.61,587.38 875.94,588.84 877.28,590.29 C878.61,591.74 879.94,593.17 881.28,594.59 C882.61,596.00 883.95,597.39 885.28,598.77 C886.62,600.15 887.95,601.50 889.29,602.84 C890.62,604.19 891.96,605.51 893.29,606.82 C894.63,608.13 895.96,609.42 897.30,610.70 C898.63,611.97 900.63,613.85 901.30,614.48"/><path d="M91.60,419.25 L161.00,425.50"/><path d="M210.00,429.86 C210.67,429.89 212.68,429.99 214.02,430.05 C215.36,430.12 216.70,430.18 218.04,430.25 C219.38,430.31 220.72,430.37 222.06,430.44 C223.40,430.50 224.74,430.56 226.08,430.63 C227.42,430.69 228.76,430.75 230.10,430.81 C231.44,430.87 232.78,430.94 234.12,431.00 C235.45,431.06 236.79,431.12 238.13,431.18 C239.47,431.24 240.81,431.30 242.15,431.36 C243.49,431.42 244.83,431.48 246.17,431.54 C247.51,431.60 248.85,431.66 250.19,431.72 C251.53,431.78 252.87,431.84 254.21,431.90 C255.55,431.96 256.89,432.02 258.23,432.07 C259.57,432.13 260.91,432.19 262.25,432.25 C263.59,432.31 264.93,432.37 266.27,432.43 C267.61,432.48 268.95,432.54 270.29,432.60 C271.63,432.66 272.97,432.72 274.31,432.77 C275.65,432.83 276.99,432.89 278.33,432.95 C279.67,433.00 281.01,433.06 282.35,433.12 C283.69,433.18 285.02,433.24 286.36,433.29 C287.70,433.35 289.04,433.41 290.38,433.47 C291.72,433.53 293.06,433.58 294.40,433.64 C295.74,433.70 297.08,433.76 298.42,433.82 C299.76,433.88 301.10,433.93 302.44,433.99 C303.78,434.05 305.12,434.11 306.46,434.17 C307.80,434.23 309.14,434.29 310.48,434.35 C311.82,434.40 313.16,434.46 314.50,434.52 C315.84,434.58 317.18,434.64 318.52,434.70 C319.86,434.76 321.20,434.82 322.54,434.88 C323.88,434.95 325.22,435.01 326.56,435.07 C327.90,435.13 329.24,435.19 330.58,435.25 C331.92,435.31 333.26,435.38 334.59,435.44 C335.93,435.50 337.27,435.56 338.61,435.63 C339.95,435.69 341.29,435.75 342.63,435.82 C343.97,435.88 345.31,435.95 346.65,436.01 C347.99,436.07 349.33,436.14 350.67,436.21 C352.01,436.27 353.35,436.34 354.69,436.40 C356.03,436.47 357.37,436.54 358.71,436.60 C360.05,436.67 361.39,436.74 362.73,436.81 C364.07,436.88 365.41,436.95 366.75,437.02 C368.09,437.09 369.43,437.16 370.77,437.23 C372.11,437.30 373.45,437.37 374.79,437.44 C376.13,437.51 377.47,437.58 378.81,437.66 C380.15,437.73 381.49,437.81 382.82,437.88 C384.16,437.95 385.50,438.03 386.84,438.10 C388.18,438.18 389.52,438.26 390.86,438.33 C392.20,438.41 393.54,438.49 394.88,438.57 C396.22,438.65 397.56,438.73 398.90,438.81 C400.24,438.89 401.58,438.97 402.92,439.05 C404.26,439.13 405.60,439.21 406.94,439.30 C408.28,439.38 409.62,439.46 410.96,439.55 C412.30,439.63 413.64,439.72 414.98,439.80 C416.32,439.89 417.66,439.98 419.00,440.07 C420.34,440.16 421.68,440.24 423.02,440.33 C424.36,440.42 425.70,440.52 427.04,440.61 C428.38,440.70 429.72,440.79 431.06,440.89 C432.39,440.98 433.73,441.07 435.07,441.17 C436.41,441.27 437.75,441.36 439.09,441.46 C440.43,441.56 441.77,441.66 443.11,441.76 C444.45,441.86 445.79,441.96 447.13,442.06 C448.47,442.16 449.81,442.27 451.15,442.37 C452.49,442.47 453.83,442.58 455.17,442.69 C456.51,442.79 457.85,442.90 459.19,443.01 C460.53,443.12 461.87,443.23 463.21,443.34 C464.55,443.45 465.89,443.56 467.23,443.67 C468.57,443.79 469.91,443.90 471.25,444.02 C472.59,444.13 473.93,444.25 475.27,444.37 C476.61,444.49 477.95,444.60 479.29,444.73 C480.63,444.85 481.96,444.97 483.30,445.09 C484.64,445.21 485.98,445.34 487.32,445.47 C488.66,445.59 490.00,445.72 491.34,445.85 C492.68,445.98 494.02,446.11 495.36,446.24 C496.70,446.37 498.04,446.50 499.38,446.63 C500.72,446.77 502.06,446.90 503.40,447.04 C504.74,447.18 506.08,447.32 507.42,447.46 C508.76,447.60 510.10,447.74 511.44,447.88 C512.78,448.02 514.12,448.17 515.46,448.31 C516.80,448.46 518.14,448.61 519.48,448.75 C520.82,448.90 522.16,449.05 523.50,449.20 C524.84,449.36 526.18,449.51 527.52,449.66 C528.86,449.82 530.20,449.98 531.53,450.13 C532.87,450.29 534.21,450.45 535.55,450.61 C536.89,450.78 538.23,450.94 539.57,451.10 C540.91,451.27 542.25,451.44 543.59,451.61 C544.93,451.77 546.27,451.95 547.61,452.12 C548.95,452.29 550.29,452.47 551.63,452.65 C552.97,452.83 554.31,453.01 555.65,453.20 C556.99,453.38 558.33,453.57 559.67,453.76 C561.01,453.95 562.35,454.14 563.69,454.34 C565.03,454.54 566.37,454.74 567.71,454.94 C569.05,455.15 570.39,455.36 571.73,455.57 C573.07,455.78 574.41,456.00 575.75,456.22 C577.09,456.44 578.43,456.66 579.77,456.89 C581.10,457.12 582.44,457.35 583.78,457.59 C585.12,457.82 586.46,458.06 587.80,458.31 C589.14,458.56 590.48,458.81 591.82,459.06 C593.16,459.32 594.50,459.58 595.84,459.85 C597.18,460.11 598.52,460.39 599.86,460.66 C601.20,460.94 602.54,461.22 603.88,461.51 C605.22,461.80 606.56,462.09 607.90,462.39 C609.24,462.69 610.58,463.00 611.92,463.31 C613.26,463.62 614.60,463.94 615.94,464.27 C617.28,464.59 618.62,464.92 619.96,465.26 C621.30,465.60 622.64,465.94 623.98,466.30 C625.32,466.65 626.66,467.01 628.00,467.37 C629.34,467.74 630.67,468.11 632.01,468.49 C633.35,468.87 634.69,469.26 636.03,469.65 C637.37,470.04 638.71,470.45 640.05,470.86 C641.39,471.27 642.73,471.69 644.07,472.11 C645.41,472.54 646.75,472.97 648.09,473.41 C649.43,473.86 650.77,474.31 652.11,474.77 C653.45,475.23 654.79,475.69 656.13,476.17 C657.47,476.65 658.81,477.13 660.15,477.63 C661.49,478.12 662.83,478.62 664.17,479.13 C665.51,479.65 666.85,480.17 668.19,480.70 C669.53,481.23 670.87,481.77 672.21,482.32 C673.55,482.87 674.89,483.43 676.23,484.00 C677.57,484.57 678.91,485.15 680.24,485.74 C681.58,486.33 682.92,486.93 684.26,487.54 C685.60,488.15 686.94,488.77 688.28,489.40 C689.62,490.02 690.96,490.66 692.30,491.31 C693.64,491.95 694.98,492.61 696.32,493.27 C697.66,493.93 699.00,494.60 700.34,495.28 C701.68,495.96 703.02,496.64 704.36,497.33 C705.70,498.03 707.04,498.72 708.38,499.43 C709.72,500.13 711.06,500.84 712.40,501.56 C713.74,502.28 715.08,503.00 716.42,503.73 C717.76,504.45 719.10,505.18 720.44,505.92 C721.78,506.66 723.12,507.40 724.46,508.14 C725.80,508.89 727.14,509.64 728.48,510.39 C729.81,511.14 731.15,511.90 732.49,512.66 C733.83,513.42 735.17,514.18 736.51,514.94 C737.85,515.71 739.19,516.47 740.53,517.24 C741.87,518.01 743.21,518.78 744.55,519.55 C745.89,520.33 747.23,521.10 748.57,521.88 C749.91,522.66 751.25,523.44 752.59,524.22 C753.93,525.00 755.27,525.78 756.61,526.57 C757.95,527.36 759.29,528.15 760.63,528.94 C761.97,529.73 763.31,530.52 764.65,531.32 C765.99,532.11 767.33,532.91 768.67,533.71 C770.01,534.51 771.35,535.31 772.69,536.11 C774.03,536.91 775.37,537.72 776.71,538.53 C778.04,539.33 779.38,540.14 780.72,540.95 C782.06,541.77 783.40,542.58 784.74,543.39 C786.08,544.21 787.42,545.03 788.76,545.85 C790.10,546.67 791.44,547.49 792.78,548.31 C794.12,549.13 795.46,549.96 796.80,550.78 C798.14,551.61 799.48,552.44 800.82,553.27 C802.16,554.10 803.50,554.93 804.84,555.76 C806.18,556.60 807.52,557.43 808.86,558.27 C810.20,559.11 811.54,559.95 812.88,560.79 C814.22,561.63 815.56,562.47 816.90,563.31 C818.24,564.16 819.58,565.00 820.92,565.85 C822.26,566.70 823.60,567.55 824.94,568.40 C826.28,569.25 827.61,570.10 828.95,570.95 C830.29,571.81 831.63,572.66 832.97,573.52 C834.31,574.38 835.65,575.23 836.99,576.10 C838.33,576.96 839.67,577.82 841.01,578.69 C842.35,579.56 843.69,580.43 845.03,581.30 C846.37,582.17 847.71,583.05 849.05,583.93 C850.39,584.81 851.73,585.70 853.07,586.58 C854.41,587.47 855.75,588.36 857.09,589.26 C858.43,590.16 859.77,591.06 861.11,591.96 C862.45,592.87 863.79,593.78 865.13,594.70 C866.47,595.61 867.81,596.53 869.15,597.46 C870.49,598.39 871.83,599.32 873.17,600.26 C874.51,601.20 875.85,602.14 877.18,603.10 C878.52,604.05 879.86,605.01 881.20,605.97 C882.54,606.94 883.88,607.91 885.22,608.89 C886.56,609.87 887.90,610.85 889.24,611.85 C890.58,612.84 891.92,613.84 893.26,614.85 C894.60,615.86 895.94,616.88 897.28,617.91 C898.62,618.93 900.63,620.49 901.30,621.01"/><path d="M91.60,455.75 L165.00,462.00"/><path d="M211.30,465.82 C211.97,465.86 213.97,465.97 215.31,466.05 C216.65,466.12 217.99,466.19 219.32,466.26 C220.66,466.34 222.00,466.41 223.33,466.48 C224.67,466.55 226.01,466.63 227.35,466.70 C228.68,466.77 230.02,466.84 231.36,466.91 C232.70,466.98 234.03,467.05 235.37,467.12 C236.71,467.19 238.04,467.27 239.38,467.34 C240.72,467.41 242.06,467.48 243.39,467.54 C244.73,467.61 246.07,467.68 247.40,467.75 C248.74,467.82 250.08,467.89 251.42,467.96 C252.75,468.03 254.09,468.10 255.43,468.17 C256.77,468.23 258.10,468.30 259.44,468.37 C260.78,468.44 262.11,468.51 263.45,468.57 C264.79,468.64 266.13,468.71 267.46,468.78 C268.80,468.85 270.14,468.91 271.47,468.98 C272.81,469.05 274.15,469.11 275.49,469.18 C276.82,469.25 278.16,469.32 279.50,469.38 C280.83,469.45 282.17,469.52 283.51,469.58 C284.85,469.65 286.18,469.72 287.52,469.78 C288.86,469.85 290.20,469.92 291.53,469.98 C292.87,470.05 294.21,470.12 295.54,470.18 C296.88,470.25 298.22,470.32 299.56,470.38 C300.89,470.45 302.23,470.52 303.57,470.58 C304.90,470.65 306.24,470.72 307.58,470.78 C308.92,470.85 310.25,470.92 311.59,470.98 C312.93,471.05 314.27,471.12 315.60,471.18 C316.94,471.25 318.28,471.32 319.61,471.38 C320.95,471.45 322.29,471.52 323.63,471.58 C324.96,471.65 326.30,471.72 327.64,471.78 C328.97,471.85 330.31,471.92 331.65,471.99 C332.99,472.05 334.32,472.12 335.66,472.19 C337.00,472.26 338.33,472.32 339.67,472.39 C341.01,472.46 342.35,472.53 343.68,472.60 C345.02,472.67 346.36,472.73 347.70,472.80 C349.03,472.87 350.37,472.94 351.71,473.01 C353.04,473.08 354.38,473.15 355.72,473.22 C357.06,473.29 358.39,473.36 359.73,473.43 C361.07,473.49 362.40,473.56 363.74,473.64 C365.08,473.71 366.42,473.78 367.75,473.85 C369.09,473.92 370.43,473.99 371.77,474.06 C373.10,474.13 374.44,474.20 375.78,474.27 C377.11,474.35 378.45,474.42 379.79,474.49 C381.13,474.56 382.46,474.64 383.80,474.71 C385.14,474.78 386.47,474.86 387.81,474.93 C389.15,475.00 390.49,475.08 391.82,475.15 C393.16,475.23 394.50,475.30 395.83,475.38 C397.17,475.45 398.51,475.53 399.85,475.60 C401.18,475.68 402.52,475.76 403.86,475.83 C405.20,475.91 406.53,475.99 407.87,476.06 C409.21,476.14 410.54,476.22 411.88,476.30 C413.22,476.37 414.56,476.45 415.89,476.53 C417.23,476.61 418.57,476.69 419.90,476.77 C421.24,476.85 422.58,476.93 423.92,477.01 C425.25,477.09 426.59,477.18 427.93,477.26 C429.27,477.34 430.60,477.42 431.94,477.50 C433.28,477.59 434.61,477.67 435.95,477.75 C437.29,477.84 438.63,477.92 439.96,478.01 C441.30,478.09 442.64,478.18 443.97,478.26 C445.31,478.35 446.65,478.44 447.99,478.52 C449.32,478.61 450.66,478.70 452.00,478.79 C453.33,478.88 454.67,478.96 456.01,479.05 C457.35,479.14 458.68,479.23 460.02,479.32 C461.36,479.42 462.70,479.51 464.03,479.60 C465.37,479.69 466.71,479.78 468.04,479.88 C469.38,479.97 470.72,480.07 472.06,480.16 C473.39,480.26 474.73,480.35 476.07,480.45 C477.40,480.55 478.74,480.65 480.08,480.75 C481.42,480.85 482.75,480.95 484.09,481.05 C485.43,481.16 486.77,481.26 488.10,481.37 C489.44,481.48 490.78,481.58 492.11,481.69 C493.45,481.80 494.79,481.91 496.13,482.03 C497.46,482.14 498.80,482.26 500.14,482.37 C501.47,482.49 502.81,482.61 504.15,482.73 C505.49,482.85 506.82,482.98 508.16,483.10 C509.50,483.23 510.83,483.36 512.17,483.49 C513.51,483.62 514.85,483.75 516.18,483.89 C517.52,484.03 518.86,484.16 520.20,484.31 C521.53,484.45 522.87,484.59 524.21,484.74 C525.54,484.88 526.88,485.03 528.22,485.19 C529.56,485.34 530.89,485.50 532.23,485.66 C533.57,485.81 534.90,485.98 536.24,486.14 C537.58,486.31 538.92,486.48 540.25,486.65 C541.59,486.82 542.93,487.00 544.27,487.18 C545.60,487.36 546.94,487.54 548.28,487.73 C549.61,487.91 550.95,488.10 552.29,488.30 C553.63,488.49 554.96,488.69 556.30,488.89 C557.64,489.10 558.97,489.30 560.31,489.51 C561.65,489.72 562.99,489.94 564.32,490.16 C565.66,490.38 567.00,490.60 568.33,490.83 C569.67,491.06 571.01,491.29 572.35,491.53 C573.68,491.76 575.02,492.00 576.36,492.25 C577.70,492.50 579.03,492.75 580.37,493.00 C581.71,493.26 583.04,493.52 584.38,493.79 C585.72,494.05 587.06,494.32 588.39,494.60 C589.73,494.88 591.07,495.16 592.40,495.44 C593.74,495.73 595.08,496.02 596.42,496.32 C597.75,496.62 599.09,496.92 600.43,497.23 C601.77,497.54 603.10,497.85 604.44,498.17 C605.78,498.49 607.11,498.82 608.45,499.15 C609.79,499.48 611.13,499.82 612.46,500.16 C613.80,500.50 615.14,500.85 616.47,501.21 C617.81,501.56 619.15,501.92 620.49,502.29 C621.82,502.66 623.16,503.03 624.50,503.42 C625.83,503.80 627.17,504.18 628.51,504.58 C629.85,504.97 631.18,505.37 632.52,505.78 C633.86,506.19 635.20,506.60 636.53,507.02 C637.87,507.44 639.21,507.87 640.54,508.30 C641.88,508.74 643.22,509.18 644.56,509.63 C645.89,510.08 647.23,510.53 648.57,511.00 C649.90,511.46 651.24,511.93 652.58,512.41 C653.92,512.89 655.25,513.37 656.59,513.87 C657.93,514.36 659.27,514.86 660.60,515.37 C661.94,515.88 663.28,516.39 664.61,516.92 C665.95,517.44 667.29,517.97 668.63,518.51 C669.96,519.05 671.30,519.60 672.64,520.16 C673.97,520.71 675.31,521.28 676.65,521.85 C677.99,522.42 679.32,523.00 680.66,523.59 C682.00,524.18 683.33,524.78 684.67,525.38 C686.01,525.99 687.35,526.60 688.68,527.22 C690.02,527.85 691.36,528.47 692.70,529.11 C694.03,529.75 695.37,530.39 696.71,531.04 C698.04,531.69 699.38,532.35 700.72,533.01 C702.06,533.68 703.39,534.35 704.73,535.02 C706.07,535.70 707.40,536.38 708.74,537.07 C710.08,537.76 711.42,538.45 712.75,539.15 C714.09,539.85 715.43,540.55 716.77,541.26 C718.10,541.97 719.44,542.69 720.78,543.41 C722.11,544.12 723.45,544.85 724.79,545.57 C726.13,546.30 727.46,547.03 728.80,547.77 C730.14,548.50 731.47,549.24 732.81,549.99 C734.15,550.73 735.49,551.47 736.82,552.22 C738.16,552.97 739.50,553.72 740.83,554.48 C742.17,555.23 743.51,555.99 744.85,556.75 C746.18,557.51 747.52,558.27 748.86,559.03 C750.20,559.80 751.53,560.56 752.87,561.33 C754.21,562.10 755.54,562.86 756.88,563.63 C758.22,564.40 759.56,565.17 760.89,565.95 C762.23,566.72 763.57,567.49 764.90,568.27 C766.24,569.04 767.58,569.82 768.92,570.60 C770.25,571.38 771.59,572.16 772.93,572.94 C774.27,573.73 775.60,574.51 776.94,575.30 C778.28,576.08 779.61,576.87 780.95,577.66 C782.29,578.46 783.63,579.25 784.96,580.05 C786.30,580.84 787.64,581.64 788.97,582.44 C790.31,583.24 791.65,584.04 792.99,584.85 C794.32,585.65 795.66,586.46 797.00,587.27 C798.33,588.08 799.67,588.89 801.01,589.70 C802.35,590.52 803.68,591.34 805.02,592.16 C806.36,592.97 807.70,593.80 809.03,594.62 C810.37,595.45 811.71,596.27 813.04,597.10 C814.38,597.93 815.72,598.76 817.06,599.60 C818.39,600.43 819.73,601.27 821.07,602.10 C822.40,602.94 823.74,603.78 825.08,604.62 C826.42,605.46 827.75,606.30 829.09,607.14 C830.43,607.98 831.77,608.83 833.10,609.67 C834.44,610.51 835.78,611.35 837.11,612.20 C838.45,613.04 839.79,613.88 841.13,614.73 C842.46,615.57 843.80,616.41 845.14,617.25 C846.47,618.10 847.81,618.94 849.15,619.78 C850.49,620.62 851.82,621.46 853.16,622.29 C854.50,623.13 855.83,623.97 857.17,624.80 C858.51,625.63 859.85,626.47 861.18,627.30 C862.52,628.13 863.86,628.95 865.20,629.78 C866.53,630.60 867.87,631.43 869.21,632.25 C870.54,633.06 871.88,633.88 873.22,634.69 C874.56,635.51 875.89,636.32 877.23,637.12 C878.57,637.93 879.90,638.73 881.24,639.53 C882.58,640.33 883.92,641.12 885.25,641.91 C886.59,642.70 887.93,643.49 889.27,644.27 C890.60,645.05 891.94,645.82 893.28,646.59 C894.61,647.36 895.95,648.13 897.29,648.89 C898.63,649.65 900.63,650.77 901.30,651.15"/><path d="M91.60,520.00 L167.50,523.75"/><path d="M210.40,526.48 C211.07,526.51 213.08,526.60 214.42,526.66 C215.76,526.72 217.09,526.78 218.43,526.85 C219.77,526.91 221.11,526.97 222.45,527.04 C223.79,527.10 225.13,527.17 226.47,527.24 C227.81,527.30 229.15,527.37 230.48,527.44 C231.82,527.51 233.16,527.58 234.50,527.66 C235.84,527.73 237.18,527.80 238.52,527.88 C239.86,527.95 241.20,528.03 242.53,528.11 C243.87,528.18 245.21,528.26 246.55,528.34 C247.89,528.42 249.23,528.50 250.57,528.58 C251.91,528.66 253.25,528.75 254.59,528.83 C255.92,528.92 257.26,529.00 258.60,529.09 C259.94,529.17 261.28,529.26 262.62,529.35 C263.96,529.44 265.30,529.53 266.64,529.62 C267.98,529.71 269.31,529.80 270.65,529.90 C271.99,529.99 273.33,530.08 274.67,530.18 C276.01,530.28 277.35,530.37 278.69,530.47 C280.03,530.57 281.36,530.67 282.70,530.77 C284.04,530.87 285.38,530.97 286.72,531.07 C288.06,531.17 289.40,531.28 290.74,531.38 C292.08,531.49 293.42,531.59 294.75,531.70 C296.09,531.81 297.43,531.92 298.77,532.03 C300.11,532.14 301.45,532.25 302.79,532.36 C304.13,532.47 305.47,532.58 306.80,532.70 C308.14,532.81 309.48,532.92 310.82,533.04 C312.16,533.16 313.50,533.27 314.84,533.39 C316.18,533.51 317.52,533.63 318.86,533.75 C320.19,533.87 321.53,533.99 322.87,534.12 C324.21,534.24 325.55,534.36 326.89,534.49 C328.23,534.61 329.57,534.74 330.91,534.87 C332.24,534.99 333.58,535.12 334.92,535.25 C336.26,535.38 337.60,535.51 338.94,535.64 C340.28,535.77 341.62,535.91 342.96,536.04 C344.30,536.18 345.63,536.31 346.97,536.45 C348.31,536.58 349.65,536.72 350.99,536.86 C352.33,537.00 353.67,537.14 355.01,537.28 C356.35,537.42 357.68,537.56 359.02,537.70 C360.36,537.84 361.70,537.99 363.04,538.13 C364.38,538.28 365.72,538.42 367.06,538.57 C368.40,538.72 369.74,538.86 371.07,539.01 C372.41,539.16 373.75,539.31 375.09,539.46 C376.43,539.61 377.77,539.77 379.11,539.92 C380.45,540.07 381.79,540.23 383.12,540.38 C384.46,540.54 385.80,540.69 387.14,540.85 C388.48,541.01 389.82,541.17 391.16,541.33 C392.50,541.49 393.84,541.65 395.18,541.81 C396.51,541.97 397.85,542.13 399.19,542.30 C400.53,542.46 401.87,542.63 403.21,542.79 C404.55,542.96 405.89,543.13 407.23,543.29 C408.57,543.46 409.90,543.63 411.24,543.80 C412.58,543.97 413.92,544.14 415.26,544.31 C416.60,544.49 417.94,544.66 419.28,544.83 C420.62,545.01 421.95,545.18 423.29,545.36 C424.63,545.54 425.97,545.71 427.31,545.89 C428.65,546.07 429.99,546.25 431.33,546.43 C432.67,546.61 434.01,546.79 435.34,546.98 C436.68,547.16 438.02,547.34 439.36,547.53 C440.70,547.71 442.04,547.90 443.38,548.08 C444.72,548.27 446.06,548.46 447.39,548.65 C448.73,548.83 450.07,549.02 451.41,549.21 C452.75,549.40 454.09,549.60 455.43,549.79 C456.77,549.98 458.11,550.17 459.45,550.37 C460.78,550.56 462.12,550.76 463.46,550.96 C464.80,551.15 466.14,551.35 467.48,551.55 C468.82,551.75 470.16,551.95 471.50,552.15 C472.83,552.35 474.17,552.55 475.51,552.75 C476.85,552.96 478.19,553.16 479.53,553.36 C480.87,553.57 482.21,553.77 483.55,553.98 C484.89,554.19 486.22,554.39 487.56,554.60 C488.90,554.81 490.24,555.02 491.58,555.23 C492.92,555.44 494.26,555.65 495.60,555.87 C496.94,556.08 498.27,556.29 499.61,556.51 C500.95,556.72 502.29,556.94 503.63,557.15 C504.97,557.37 506.31,557.59 507.65,557.80 C508.99,558.02 510.33,558.24 511.66,558.46 C513.00,558.68 514.34,558.90 515.68,559.12 C517.02,559.35 518.36,559.57 519.70,559.79 C521.04,560.02 522.38,560.24 523.72,560.47 C525.05,560.69 526.39,560.92 527.73,561.15 C529.07,561.38 530.41,561.60 531.75,561.83 C533.09,562.06 534.43,562.29 535.77,562.53 C537.10,562.76 538.44,562.99 539.78,563.22 C541.12,563.46 542.46,563.69 543.80,563.93 C545.14,564.16 546.48,564.40 547.82,564.63 C549.16,564.87 550.49,565.11 551.83,565.35 C553.17,565.59 554.51,565.83 555.85,566.07 C557.19,566.31 558.53,566.55 559.87,566.79 C561.21,567.04 562.54,567.28 563.88,567.52 C565.22,567.77 566.56,568.01 567.90,568.26 C569.24,568.51 570.58,568.75 571.92,569.00 C573.26,569.25 574.60,569.50 575.93,569.75 C577.27,570.00 578.61,570.25 579.95,570.50 C581.29,570.75 582.63,571.01 583.97,571.26 C585.31,571.51 586.65,571.77 587.98,572.02 C589.32,572.28 590.66,572.54 592.00,572.79 C593.34,573.05 594.68,573.31 596.02,573.57 C597.36,573.83 598.70,574.09 600.04,574.35 C601.37,574.61 602.71,574.87 604.05,575.13 C605.39,575.39 606.73,575.66 608.07,575.92 C609.41,576.19 610.75,576.45 612.09,576.72 C613.43,576.98 614.76,577.25 616.10,577.52 C617.44,577.79 618.78,578.06 620.12,578.32 C621.46,578.59 622.80,578.87 624.14,579.14 C625.48,579.41 626.81,579.68 628.15,579.95 C629.49,580.23 630.83,580.50 632.17,580.77 C633.51,581.05 634.85,581.33 636.19,581.60 C637.53,581.88 638.87,582.16 640.20,582.43 C641.54,582.71 642.88,582.99 644.22,583.27 C645.56,583.55 646.90,583.83 648.24,584.11 C649.58,584.39 650.92,584.68 652.25,584.96 C653.59,585.24 654.93,585.53 656.27,585.81 C657.61,586.10 658.95,586.38 660.29,586.67 C661.63,586.96 662.97,587.25 664.31,587.53 C665.64,587.82 666.98,588.11 668.32,588.40 C669.66,588.69 671.00,588.98 672.34,589.27 C673.68,589.57 675.02,589.86 676.36,590.15 C677.69,590.44 679.03,590.74 680.37,591.03 C681.71,591.33 683.05,591.62 684.39,591.92 C685.73,592.22 687.07,592.52 688.41,592.81 C689.75,593.11 691.08,593.41 692.42,593.71 C693.76,594.01 695.10,594.31 696.44,594.62 C697.78,594.92 699.12,595.22 700.46,595.53 C701.80,595.83 703.13,596.14 704.47,596.44 C705.81,596.75 707.15,597.06 708.49,597.37 C709.83,597.68 711.17,597.99 712.51,598.30 C713.85,598.61 715.19,598.92 716.52,599.23 C717.86,599.55 719.20,599.86 720.54,600.18 C721.88,600.49 723.22,600.81 724.56,601.13 C725.90,601.45 727.24,601.77 728.57,602.09 C729.91,602.41 731.25,602.73 732.59,603.06 C733.93,603.38 735.27,603.71 736.61,604.04 C737.95,604.36 739.29,604.69 740.63,605.02 C741.96,605.35 743.30,605.68 744.64,606.02 C745.98,606.35 747.32,606.68 748.66,607.02 C750.00,607.36 751.34,607.70 752.68,608.03 C754.02,608.37 755.35,608.72 756.69,609.06 C758.03,609.40 759.37,609.75 760.71,610.09 C762.05,610.44 763.39,610.79 764.73,611.14 C766.07,611.49 767.40,611.84 768.74,612.19 C770.08,612.55 771.42,612.90 772.76,613.26 C774.10,613.62 775.44,613.98 776.78,614.34 C778.12,614.70 779.46,615.06 780.79,615.43 C782.13,615.79 783.47,616.16 784.81,616.53 C786.15,616.90 787.49,617.27 788.83,617.64 C790.17,618.01 791.51,618.39 792.84,618.77 C794.18,619.14 795.52,619.52 796.86,619.90 C798.20,620.29 799.54,620.67 800.88,621.05 C802.22,621.44 803.56,621.83 804.90,622.22 C806.23,622.61 807.57,623.00 808.91,623.40 C810.25,623.79 811.59,624.19 812.93,624.59 C814.27,624.99 815.61,625.39 816.95,625.80 C818.28,626.20 819.62,626.61 820.96,627.02 C822.30,627.43 823.64,627.85 824.98,628.27 C826.32,628.68 827.66,629.10 829.00,629.53 C830.34,629.96 831.67,630.39 833.01,630.82 C834.35,631.25 835.69,631.69 837.03,632.13 C838.37,632.58 839.71,633.02 841.05,633.47 C842.39,633.93 843.73,634.38 845.06,634.84 C846.40,635.31 847.74,635.77 849.08,636.24 C850.42,636.72 851.76,637.20 853.10,637.68 C854.44,638.16 855.78,638.65 857.11,639.15 C858.45,639.64 859.79,640.15 861.13,640.65 C862.47,641.16 863.81,641.68 865.15,642.20 C866.49,642.72 867.83,643.25 869.17,643.79 C870.50,644.32 871.84,644.87 873.18,645.42 C874.52,645.97 875.86,646.52 877.20,647.09 C878.54,647.66 879.88,648.23 881.22,648.81 C882.55,649.39 883.89,649.98 885.23,650.58 C886.57,651.18 887.91,651.79 889.25,652.40 C890.59,653.02 891.93,653.64 893.27,654.27 C894.61,654.91 895.94,655.55 897.28,656.20 C898.62,656.85 900.63,657.86 901.30,658.19"/><path d="M91.60,614.50 L167.50,622.00"/><path d="M210.40,626.03 C211.07,626.08 213.08,626.23 214.42,626.33 C215.76,626.43 217.09,626.53 218.43,626.63 C219.77,626.73 221.11,626.83 222.45,626.92 C223.79,627.02 225.13,627.12 226.47,627.21 C227.81,627.31 229.15,627.41 230.48,627.50 C231.82,627.60 233.16,627.69 234.50,627.79 C235.84,627.88 237.18,627.97 238.52,628.07 C239.86,628.16 241.20,628.26 242.53,628.35 C243.87,628.44 245.21,628.53 246.55,628.63 C247.89,628.72 249.23,628.81 250.57,628.90 C251.91,628.99 253.25,629.08 254.59,629.17 C255.92,629.26 257.26,629.35 258.60,629.44 C259.94,629.53 261.28,629.62 262.62,629.71 C263.96,629.80 265.30,629.89 266.64,629.98 C267.98,630.06 269.31,630.15 270.65,630.24 C271.99,630.33 273.33,630.42 274.67,630.50 C276.01,630.59 277.35,630.68 278.69,630.76 C280.03,630.85 281.36,630.93 282.70,631.02 C284.04,631.11 285.38,631.19 286.72,631.28 C288.06,631.36 289.40,631.45 290.74,631.53 C292.08,631.62 293.42,631.70 294.75,631.78 C296.09,631.87 297.43,631.95 298.77,632.04 C300.11,632.12 301.45,632.20 302.79,632.29 C304.13,632.37 305.47,632.45 306.80,632.54 C308.14,632.62 309.48,632.70 310.82,632.78 C312.16,632.87 313.50,632.95 314.84,633.03 C316.18,633.11 317.52,633.19 318.86,633.28 C320.19,633.36 321.53,633.44 322.87,633.52 C324.21,633.60 325.55,633.68 326.89,633.77 C328.23,633.85 329.57,633.93 330.91,634.01 C332.24,634.09 333.58,634.17 334.92,634.25 C336.26,634.33 337.60,634.41 338.94,634.49 C340.28,634.57 341.62,634.65 342.96,634.73 C344.30,634.81 345.63,634.89 346.97,634.97 C348.31,635.05 349.65,635.13 350.99,635.21 C352.33,635.29 353.67,635.37 355.01,635.45 C356.35,635.53 357.68,635.61 359.02,635.69 C360.36,635.77 361.70,635.85 363.04,635.93 C364.38,636.01 365.72,636.09 367.06,636.17 C368.40,636.25 369.74,636.33 371.07,636.41 C372.41,636.49 373.75,636.57 375.09,636.65 C376.43,636.73 377.77,636.81 379.11,636.89 C380.45,636.97 381.79,637.05 383.12,637.13 C384.46,637.21 385.80,637.29 387.14,637.37 C388.48,637.45 389.82,637.53 391.16,637.61 C392.50,637.69 393.84,637.77 395.18,637.85 C396.51,637.94 397.85,638.02 399.19,638.10 C400.53,638.18 401.87,638.26 403.21,638.34 C404.55,638.42 405.89,638.50 407.23,638.58 C408.57,638.66 409.90,638.75 411.24,638.83 C412.58,638.91 413.92,638.99 415.26,639.07 C416.60,639.15 417.94,639.24 419.28,639.32 C420.62,639.40 421.95,639.48 423.29,639.57 C424.63,639.65 425.97,639.73 427.31,639.81 C428.65,639.90 429.99,639.98 431.33,640.06 C432.67,640.15 434.01,640.23 435.34,640.31 C436.68,640.40 438.02,640.48 439.36,640.57 C440.70,640.65 442.04,640.74 443.38,640.82 C444.72,640.91 446.06,640.99 447.39,641.08 C448.73,641.16 450.07,641.25 451.41,641.33 C452.75,641.42 454.09,641.51 455.43,641.59 C456.77,641.68 458.11,641.77 459.45,641.85 C460.78,641.94 462.12,642.03 463.46,642.12 C464.80,642.20 466.14,642.29 467.48,642.38 C468.82,642.47 470.16,642.56 471.50,642.65 C472.83,642.74 474.17,642.83 475.51,642.92 C476.85,643.00 478.19,643.10 479.53,643.19 C480.87,643.28 482.21,643.37 483.55,643.46 C484.89,643.55 486.22,643.64 487.56,643.74 C488.90,643.83 490.24,643.92 491.58,644.01 C492.92,644.11 494.26,644.20 495.60,644.29 C496.94,644.39 498.27,644.48 499.61,644.58 C500.95,644.67 502.29,644.77 503.63,644.86 C504.97,644.96 506.31,645.06 507.65,645.15 C508.99,645.25 510.33,645.35 511.66,645.44 C513.00,645.54 514.34,645.64 515.68,645.74 C517.02,645.84 518.36,645.94 519.70,646.04 C521.04,646.14 522.38,646.24 523.72,646.34 C525.05,646.44 526.39,646.54 527.73,646.64 C529.07,646.74 530.41,646.85 531.75,646.95 C533.09,647.05 534.43,647.16 535.77,647.26 C537.10,647.37 538.44,647.47 539.78,647.58 C541.12,647.68 542.46,647.79 543.80,647.89 C545.14,648.00 546.48,648.11 547.82,648.21 C549.16,648.32 550.49,648.43 551.83,648.54 C553.17,648.65 554.51,648.76 555.85,648.87 C557.19,648.98 558.53,649.09 559.87,649.20 C561.21,649.31 562.54,649.43 563.88,649.54 C565.22,649.65 566.56,649.77 567.90,649.88 C569.24,649.99 570.58,650.11 571.92,650.23 C573.26,650.34 574.60,650.46 575.93,650.57 C577.27,650.69 578.61,650.81 579.95,650.93 C581.29,651.05 582.63,651.17 583.97,651.29 C585.31,651.41 586.65,651.53 587.98,651.65 C589.32,651.77 590.66,651.89 592.00,652.02 C593.34,652.14 594.68,652.26 596.02,652.39 C597.36,652.51 598.70,652.64 600.04,652.76 C601.37,652.89 602.71,653.02 604.05,653.14 C605.39,653.27 606.73,653.40 608.07,653.53 C609.41,653.66 610.75,653.79 612.09,653.92 C613.43,654.05 614.76,654.18 616.10,654.32 C617.44,654.45 618.78,654.58 620.12,654.72 C621.46,654.85 622.80,654.99 624.14,655.13 C625.48,655.26 626.81,655.40 628.15,655.54 C629.49,655.68 630.83,655.82 632.17,655.96 C633.51,656.10 634.85,656.25 636.19,656.39 C637.53,656.53 638.87,656.68 640.20,656.82 C641.54,656.97 642.88,657.12 644.22,657.27 C645.56,657.42 646.90,657.57 648.24,657.72 C649.58,657.87 650.92,658.02 652.25,658.18 C653.59,658.33 654.93,658.49 656.27,658.64 C657.61,658.80 658.95,658.96 660.29,659.12 C661.63,659.28 662.97,659.44 664.31,659.60 C665.64,659.77 666.98,659.93 668.32,660.10 C669.66,660.26 671.00,660.43 672.34,660.60 C673.68,660.77 675.02,660.94 676.36,661.11 C677.69,661.29 679.03,661.46 680.37,661.64 C681.71,661.82 683.05,661.99 684.39,662.17 C685.73,662.35 687.07,662.54 688.41,662.72 C689.75,662.90 691.08,663.09 692.42,663.28 C693.76,663.46 695.10,663.65 696.44,663.85 C697.78,664.04 699.12,664.23 700.46,664.43 C701.80,664.62 703.13,664.82 704.47,665.02 C705.81,665.22 707.15,665.42 708.49,665.62 C709.83,665.83 711.17,666.03 712.51,666.24 C713.85,666.45 715.19,666.66 716.52,666.87 C717.86,667.09 719.20,667.30 720.54,667.52 C721.88,667.74 723.22,667.96 724.56,668.18 C725.90,668.40 727.24,668.62 728.57,668.85 C729.91,669.08 731.25,669.31 732.59,669.54 C733.93,669.77 735.27,670.00 736.61,670.24 C737.95,670.48 739.29,670.72 740.63,670.96 C741.96,671.20 743.30,671.44 744.64,671.69 C745.98,671.94 747.32,672.19 748.66,672.44 C750.00,672.69 751.34,672.95 752.68,673.20 C754.02,673.46 755.35,673.72 756.69,673.98 C758.03,674.25 759.37,674.51 760.71,674.78 C762.05,675.05 763.39,675.32 764.73,675.60 C766.07,675.87 767.40,676.15 768.74,676.43 C770.08,676.71 771.42,676.99 772.76,677.28 C774.10,677.56 775.44,677.85 776.78,678.14 C778.12,678.43 779.46,678.73 780.79,679.03 C782.13,679.33 783.47,679.63 784.81,679.93 C786.15,680.24 787.49,680.54 788.83,680.85 C790.17,681.17 791.51,681.48 792.84,681.80 C794.18,682.12 795.52,682.44 796.86,682.76 C798.20,683.09 799.54,683.42 800.88,683.75 C802.22,684.08 803.56,684.42 804.90,684.76 C806.23,685.10 807.57,685.45 808.91,685.80 C810.25,686.14 811.59,686.50 812.93,686.86 C814.27,687.21 815.61,687.58 816.95,687.94 C818.28,688.31 819.62,688.68 820.96,689.06 C822.30,689.43 823.64,689.81 824.98,690.20 C826.32,690.59 827.66,690.98 829.00,691.37 C830.34,691.77 831.67,692.17 833.01,692.58 C834.35,692.98 835.69,693.40 837.03,693.81 C838.37,694.23 839.71,694.65 841.05,695.08 C842.39,695.51 843.73,695.94 845.06,696.38 C846.40,696.82 847.74,697.27 849.08,697.72 C850.42,698.17 851.76,698.63 853.10,699.09 C854.44,699.55 855.78,700.02 857.11,700.50 C858.45,700.97 859.79,701.45 861.13,701.94 C862.47,702.43 863.81,702.92 865.15,703.42 C866.49,703.92 867.83,704.43 869.17,704.94 C870.50,705.46 871.84,705.98 873.18,706.50 C874.52,707.03 875.86,707.57 877.20,708.11 C878.54,708.65 879.88,709.19 881.22,709.75 C882.55,710.30 883.89,710.86 885.23,711.43 C886.57,712.00 887.91,712.58 889.25,713.16 C890.59,713.74 891.93,714.34 893.27,714.93 C894.61,715.53 895.94,716.14 897.28,716.75 C898.62,717.36 900.63,718.30 901.30,718.61"/><path d="M91.60,653.00 L167.50,659.50"/><path d="M210.40,661.79 C211.07,661.85 213.08,662.04 214.42,662.16 C215.76,662.28 217.09,662.40 218.43,662.52 C219.77,662.64 221.11,662.76 222.45,662.88 C223.79,663.00 225.13,663.12 226.47,663.24 C227.81,663.36 229.15,663.48 230.48,663.59 C231.82,663.71 233.16,663.83 234.50,663.94 C235.84,664.06 237.18,664.17 238.52,664.29 C239.86,664.40 241.20,664.52 242.53,664.63 C243.87,664.74 245.21,664.86 246.55,664.97 C247.89,665.08 249.23,665.19 250.57,665.31 C251.91,665.42 253.25,665.53 254.59,665.64 C255.92,665.75 257.26,665.86 258.60,665.97 C259.94,666.08 261.28,666.19 262.62,666.30 C263.96,666.41 265.30,666.51 266.64,666.62 C267.98,666.73 269.31,666.84 270.65,666.94 C271.99,667.05 273.33,667.16 274.67,667.26 C276.01,667.37 277.35,667.47 278.69,667.58 C280.03,667.69 281.36,667.79 282.70,667.89 C284.04,668.00 285.38,668.10 286.72,668.21 C288.06,668.31 289.40,668.42 290.74,668.52 C292.08,668.62 293.42,668.72 294.75,668.83 C296.09,668.93 297.43,669.03 298.77,669.14 C300.11,669.24 301.45,669.34 302.79,669.44 C304.13,669.54 305.47,669.64 306.80,669.75 C308.14,669.85 309.48,669.95 310.82,670.05 C312.16,670.15 313.50,670.25 314.84,670.35 C316.18,670.45 317.52,670.55 318.86,670.65 C320.19,670.75 321.53,670.85 322.87,670.95 C324.21,671.05 325.55,671.15 326.89,671.25 C328.23,671.35 329.57,671.45 330.91,671.55 C332.24,671.65 333.58,671.74 334.92,671.84 C336.26,671.94 337.60,672.04 338.94,672.14 C340.28,672.24 341.62,672.34 342.96,672.44 C344.30,672.54 345.63,672.63 346.97,672.73 C348.31,672.83 349.65,672.93 350.99,673.03 C352.33,673.13 353.67,673.23 355.01,673.32 C356.35,673.42 357.68,673.52 359.02,673.62 C360.36,673.72 361.70,673.82 363.04,673.92 C364.38,674.01 365.72,674.11 367.06,674.21 C368.40,674.31 369.74,674.41 371.07,674.51 C372.41,674.61 373.75,674.71 375.09,674.81 C376.43,674.91 377.77,675.01 379.11,675.10 C380.45,675.20 381.79,675.30 383.12,675.40 C384.46,675.50 385.80,675.60 387.14,675.70 C388.48,675.80 389.82,675.90 391.16,676.00 C392.50,676.10 393.84,676.20 395.18,676.31 C396.51,676.41 397.85,676.51 399.19,676.61 C400.53,676.71 401.87,676.81 403.21,676.91 C404.55,677.01 405.89,677.12 407.23,677.22 C408.57,677.32 409.90,677.42 411.24,677.53 C412.58,677.63 413.92,677.73 415.26,677.84 C416.60,677.94 417.94,678.04 419.28,678.15 C420.62,678.25 421.95,678.36 423.29,678.46 C424.63,678.56 425.97,678.67 427.31,678.78 C428.65,678.88 429.99,678.99 431.33,679.09 C432.67,679.20 434.01,679.31 435.34,679.41 C436.68,679.52 438.02,679.63 439.36,679.73 C440.70,679.84 442.04,679.95 443.38,680.06 C444.72,680.17 446.06,680.28 447.39,680.39 C448.73,680.50 450.07,680.61 451.41,680.72 C452.75,680.83 454.09,680.94 455.43,681.05 C456.77,681.16 458.11,681.27 459.45,681.39 C460.78,681.50 462.12,681.61 463.46,681.73 C464.80,681.84 466.14,681.95 467.48,682.07 C468.82,682.18 470.16,682.30 471.50,682.42 C472.83,682.53 474.17,682.65 475.51,682.77 C476.85,682.88 478.19,683.00 479.53,683.12 C480.87,683.24 482.21,683.36 483.55,683.48 C484.89,683.60 486.22,683.72 487.56,683.84 C488.90,683.96 490.24,684.08 491.58,684.20 C492.92,684.32 494.26,684.45 495.60,684.57 C496.94,684.69 498.27,684.82 499.61,684.94 C500.95,685.07 502.29,685.20 503.63,685.32 C504.97,685.45 506.31,685.58 507.65,685.70 C508.99,685.83 510.33,685.96 511.66,686.09 C513.00,686.22 514.34,686.35 515.68,686.48 C517.02,686.61 518.36,686.75 519.70,686.88 C521.04,687.01 522.38,687.15 523.72,687.28 C525.05,687.41 526.39,687.55 527.73,687.69 C529.07,687.82 530.41,687.96 531.75,688.10 C533.09,688.24 534.43,688.38 535.77,688.52 C537.10,688.66 538.44,688.80 539.78,688.94 C541.12,689.08 542.46,689.22 543.80,689.37 C545.14,689.51 546.48,689.65 547.82,689.80 C549.16,689.94 550.49,690.09 551.83,690.24 C553.17,690.39 554.51,690.53 555.85,690.68 C557.19,690.83 558.53,690.98 559.87,691.14 C561.21,691.29 562.54,691.44 563.88,691.59 C565.22,691.75 566.56,691.90 567.90,692.06 C569.24,692.21 570.58,692.37 571.92,692.53 C573.26,692.68 574.60,692.84 575.93,693.00 C577.27,693.16 578.61,693.32 579.95,693.49 C581.29,693.65 582.63,693.81 583.97,693.98 C585.31,694.14 586.65,694.31 587.98,694.47 C589.32,694.64 590.66,694.81 592.00,694.98 C593.34,695.15 594.68,695.32 596.02,695.49 C597.36,695.66 598.70,695.83 600.04,696.01 C601.37,696.18 602.71,696.36 604.05,696.53 C605.39,696.71 606.73,696.89 608.07,697.07 C609.41,697.24 610.75,697.43 612.09,697.61 C613.43,697.79 614.76,697.97 616.10,698.15 C617.44,698.34 618.78,698.52 620.12,698.71 C621.46,698.90 622.80,699.09 624.14,699.28 C625.48,699.46 626.81,699.66 628.15,699.85 C629.49,700.04 630.83,700.23 632.17,700.43 C633.51,700.62 634.85,700.82 636.19,701.02 C637.53,701.21 638.87,701.41 640.20,701.61 C641.54,701.81 642.88,702.02 644.22,702.22 C645.56,702.42 646.90,702.63 648.24,702.83 C649.58,703.04 650.92,703.25 652.25,703.46 C653.59,703.67 654.93,703.88 656.27,704.09 C657.61,704.30 658.95,704.52 660.29,704.73 C661.63,704.95 662.97,705.16 664.31,705.38 C665.64,705.60 666.98,705.82 668.32,706.04 C669.66,706.26 671.00,706.48 672.34,706.71 C673.68,706.93 675.02,707.16 676.36,707.39 C677.69,707.61 679.03,707.84 680.37,708.08 C681.71,708.31 683.05,708.54 684.39,708.77 C685.73,709.01 687.07,709.24 688.41,709.48 C689.75,709.72 691.08,709.96 692.42,710.20 C693.76,710.44 695.10,710.68 696.44,710.93 C697.78,711.17 699.12,711.42 700.46,711.66 C701.80,711.91 703.13,712.16 704.47,712.41 C705.81,712.66 707.15,712.92 708.49,713.17 C709.83,713.42 711.17,713.68 712.51,713.94 C713.85,714.20 715.19,714.46 716.52,714.72 C717.86,714.98 719.20,715.24 720.54,715.51 C721.88,715.78 723.22,716.04 724.56,716.31 C725.90,716.58 727.24,716.85 728.57,717.12 C729.91,717.40 731.25,717.67 732.59,717.95 C733.93,718.22 735.27,718.50 736.61,718.78 C737.95,719.06 739.29,719.35 740.63,719.63 C741.96,719.91 743.30,720.20 744.64,720.49 C745.98,720.78 747.32,721.07 748.66,721.36 C750.00,721.65 751.34,721.94 752.68,722.24 C754.02,722.53 755.35,722.83 756.69,723.13 C758.03,723.43 759.37,723.73 760.71,724.04 C762.05,724.34 763.39,724.65 764.73,724.96 C766.07,725.26 767.40,725.57 768.74,725.88 C770.08,726.20 771.42,726.51 772.76,726.83 C774.10,727.14 775.44,727.46 776.78,727.78 C778.12,728.10 779.46,728.42 780.79,728.75 C782.13,729.07 783.47,729.40 784.81,729.73 C786.15,730.06 787.49,730.39 788.83,730.72 C790.17,731.05 791.51,731.39 792.84,731.73 C794.18,732.06 795.52,732.40 796.86,732.75 C798.20,733.09 799.54,733.43 800.88,733.78 C802.22,734.12 803.56,734.47 804.90,734.82 C806.23,735.17 807.57,735.53 808.91,735.88 C810.25,736.24 811.59,736.59 812.93,736.95 C814.27,737.31 815.61,737.68 816.95,738.04 C818.28,738.40 819.62,738.77 820.96,739.14 C822.30,739.51 823.64,739.88 824.98,740.25 C826.32,740.63 827.66,741.00 829.00,741.38 C830.34,741.76 831.67,742.14 833.01,742.52 C834.35,742.91 835.69,743.29 837.03,743.68 C838.37,744.07 839.71,744.46 841.05,744.85 C842.39,745.24 843.73,745.64 845.06,746.03 C846.40,746.43 847.74,746.83 849.08,747.23 C850.42,747.64 851.76,748.04 853.10,748.45 C854.44,748.86 855.78,749.27 857.11,749.68 C858.45,750.09 859.79,750.51 861.13,750.92 C862.47,751.34 863.81,751.76 865.15,752.18 C866.49,752.60 867.83,753.03 869.17,753.46 C870.50,753.88 871.84,754.31 873.18,754.75 C874.52,755.18 875.86,755.61 877.20,756.05 C878.54,756.49 879.88,756.93 881.22,757.37 C882.55,757.82 883.89,758.26 885.23,758.71 C886.57,759.16 887.91,759.61 889.25,760.06 C890.59,760.52 891.93,760.97 893.27,761.43 C894.61,761.89 895.94,762.35 897.28,762.82 C898.62,763.28 900.63,763.98 901.30,764.22"/><path d="M91.60,692.50 L168.75,698.25"/><path d="M210.40,700.75 C211.07,700.81 213.08,700.98 214.42,701.09 C215.76,701.21 217.09,701.32 218.43,701.43 C219.77,701.54 221.11,701.65 222.45,701.77 C223.79,701.88 225.13,701.99 226.47,702.10 C227.80,702.21 229.14,702.32 230.48,702.43 C231.82,702.54 233.16,702.64 234.50,702.75 C235.84,702.86 237.18,702.97 238.51,703.08 C239.85,703.18 241.19,703.29 242.53,703.40 C243.87,703.50 245.21,703.61 246.55,703.72 C247.89,703.82 249.22,703.93 250.56,704.03 C251.90,704.14 253.24,704.24 254.58,704.35 C255.92,704.45 257.26,704.56 258.60,704.66 C259.93,704.76 261.27,704.87 262.61,704.97 C263.95,705.07 265.29,705.18 266.63,705.28 C267.97,705.38 269.31,705.48 270.64,705.59 C271.98,705.69 273.32,705.79 274.66,705.89 C276.00,705.99 277.34,706.09 278.68,706.20 C280.02,706.30 281.35,706.40 282.69,706.50 C284.03,706.60 285.37,706.70 286.71,706.80 C288.05,706.90 289.39,707.00 290.73,707.10 C292.06,707.20 293.40,707.30 294.74,707.40 C296.08,707.50 297.42,707.60 298.76,707.70 C300.10,707.79 301.44,707.89 302.77,707.99 C304.11,708.09 305.45,708.19 306.79,708.29 C308.13,708.39 309.47,708.49 310.81,708.58 C312.15,708.68 313.48,708.78 314.82,708.88 C316.16,708.98 317.50,709.08 318.84,709.17 C320.18,709.27 321.52,709.37 322.86,709.47 C324.19,709.57 325.53,709.66 326.87,709.76 C328.21,709.86 329.55,709.96 330.89,710.06 C332.23,710.15 333.57,710.25 334.90,710.35 C336.24,710.45 337.58,710.55 338.92,710.64 C340.26,710.74 341.60,710.84 342.94,710.94 C344.28,711.04 345.61,711.13 346.95,711.23 C348.29,711.33 349.63,711.43 350.97,711.53 C352.31,711.63 353.65,711.72 354.99,711.82 C356.32,711.92 357.66,712.02 359.00,712.12 C360.34,712.22 361.68,712.32 363.02,712.42 C364.36,712.52 365.70,712.61 367.03,712.71 C368.37,712.81 369.71,712.91 371.05,713.01 C372.39,713.11 373.73,713.21 375.07,713.31 C376.41,713.41 377.74,713.51 379.08,713.61 C380.42,713.71 381.76,713.81 383.10,713.92 C384.44,714.02 385.78,714.12 387.12,714.22 C388.46,714.32 389.79,714.42 391.13,714.52 C392.47,714.63 393.81,714.73 395.15,714.83 C396.49,714.93 397.83,715.04 399.17,715.14 C400.50,715.24 401.84,715.35 403.18,715.45 C404.52,715.55 405.86,715.66 407.20,715.76 C408.54,715.87 409.88,715.97 411.21,716.08 C412.55,716.18 413.89,716.29 415.23,716.39 C416.57,716.50 417.91,716.60 419.25,716.71 C420.59,716.82 421.92,716.92 423.26,717.03 C424.60,717.14 425.94,717.25 427.28,717.35 C428.62,717.46 429.96,717.57 431.30,717.68 C432.63,717.79 433.97,717.90 435.31,718.01 C436.65,718.12 437.99,718.23 439.33,718.34 C440.67,718.45 442.01,718.56 443.34,718.67 C444.68,718.79 446.02,718.90 447.36,719.01 C448.70,719.12 450.04,719.24 451.38,719.35 C452.72,719.47 454.05,719.58 455.39,719.70 C456.73,719.81 458.07,719.93 459.41,720.04 C460.75,720.16 462.09,720.28 463.43,720.39 C464.76,720.51 466.10,720.63 467.44,720.75 C468.78,720.87 470.12,720.98 471.46,721.10 C472.80,721.22 474.14,721.34 475.47,721.47 C476.81,721.59 478.15,721.71 479.49,721.83 C480.83,721.95 482.17,722.08 483.51,722.20 C484.85,722.32 486.18,722.45 487.52,722.57 C488.86,722.70 490.20,722.82 491.54,722.95 C492.88,723.08 494.22,723.20 495.56,723.33 C496.89,723.46 498.23,723.59 499.57,723.72 C500.91,723.85 502.25,723.98 503.59,724.11 C504.93,724.24 506.27,724.37 507.60,724.50 C508.94,724.64 510.28,724.77 511.62,724.90 C512.96,725.04 514.30,725.17 515.64,725.31 C516.98,725.44 518.31,725.58 519.65,725.72 C520.99,725.86 522.33,725.99 523.67,726.13 C525.01,726.27 526.35,726.41 527.69,726.55 C529.02,726.69 530.36,726.83 531.70,726.98 C533.04,727.12 534.38,727.26 535.72,727.41 C537.06,727.55 538.40,727.70 539.73,727.84 C541.07,727.99 542.41,728.14 543.75,728.28 C545.09,728.43 546.43,728.58 547.77,728.73 C549.11,728.88 550.44,729.03 551.78,729.18 C553.12,729.34 554.46,729.49 555.80,729.64 C557.14,729.80 558.48,729.95 559.82,730.11 C561.16,730.26 562.49,730.42 563.83,730.58 C565.17,730.74 566.51,730.90 567.85,731.06 C569.19,731.22 570.53,731.38 571.87,731.54 C573.20,731.70 574.54,731.87 575.88,732.03 C577.22,732.19 578.56,732.36 579.90,732.53 C581.24,732.69 582.58,732.86 583.91,733.03 C585.25,733.20 586.59,733.37 587.93,733.54 C589.27,733.71 590.61,733.88 591.95,734.06 C593.29,734.23 594.62,734.40 595.96,734.58 C597.30,734.76 598.64,734.93 599.98,735.11 C601.32,735.29 602.66,735.47 604.00,735.65 C605.33,735.83 606.67,736.01 608.01,736.19 C609.35,736.38 610.69,736.56 612.03,736.75 C613.37,736.93 614.71,737.12 616.04,737.31 C617.38,737.49 618.72,737.68 620.06,737.87 C621.40,738.06 622.74,738.26 624.08,738.45 C625.42,738.64 626.75,738.84 628.09,739.03 C629.43,739.23 630.77,739.43 632.11,739.62 C633.45,739.82 634.79,740.02 636.13,740.22 C637.46,740.42 638.80,740.63 640.14,740.83 C641.48,741.03 642.82,741.24 644.16,741.45 C645.50,741.65 646.84,741.86 648.17,742.07 C649.51,742.28 650.85,742.49 652.19,742.70 C653.53,742.92 654.87,743.13 656.21,743.34 C657.55,743.56 658.88,743.78 660.22,743.99 C661.56,744.21 662.90,744.43 664.24,744.65 C665.58,744.87 666.92,745.10 668.26,745.32 C669.59,745.54 670.93,745.77 672.27,746.00 C673.61,746.22 674.95,746.45 676.29,746.68 C677.63,746.91 678.97,747.14 680.30,747.38 C681.64,747.61 682.98,747.85 684.32,748.08 C685.66,748.32 687.00,748.56 688.34,748.80 C689.68,749.03 691.01,749.28 692.35,749.52 C693.69,749.76 695.03,750.01 696.37,750.25 C697.71,750.50 699.05,750.74 700.39,750.99 C701.72,751.24 703.06,751.49 704.40,751.75 C705.74,752.00 707.08,752.25 708.42,752.51 C709.76,752.76 711.10,753.02 712.43,753.28 C713.77,753.54 715.11,753.80 716.45,754.06 C717.79,754.33 719.13,754.59 720.47,754.86 C721.81,755.12 723.14,755.39 724.48,755.66 C725.82,755.93 727.16,756.20 728.50,756.47 C729.84,756.75 731.18,757.02 732.52,757.30 C733.86,757.58 735.19,757.85 736.53,758.13 C737.87,758.41 739.21,758.70 740.55,758.98 C741.89,759.26 743.23,759.55 744.57,759.84 C745.90,760.12 747.24,760.41 748.58,760.71 C749.92,761.00 751.26,761.29 752.60,761.58 C753.94,761.88 755.28,762.18 756.61,762.48 C757.95,762.77 759.29,763.07 760.63,763.38 C761.97,763.68 763.31,763.98 764.65,764.29 C765.99,764.60 767.32,764.91 768.66,765.22 C770.00,765.53 771.34,765.84 772.68,766.15 C774.02,766.47 775.36,766.78 776.70,767.10 C778.03,767.42 779.37,767.74 780.71,768.06 C782.05,768.38 783.39,768.71 784.73,769.03 C786.07,769.36 787.41,769.69 788.74,770.02 C790.08,770.35 791.42,770.68 792.76,771.01 C794.10,771.35 795.44,771.69 796.78,772.02 C798.12,772.36 799.45,772.70 800.79,773.05 C802.13,773.39 803.47,773.73 804.81,774.08 C806.15,774.43 807.49,774.78 808.83,775.13 C810.16,775.48 811.50,775.83 812.84,776.19 C814.18,776.54 815.52,776.90 816.86,777.26 C818.20,777.62 819.54,777.98 820.87,778.34 C822.21,778.71 823.55,779.07 824.89,779.44 C826.23,779.81 827.57,780.18 828.91,780.55 C830.25,780.93 831.58,781.30 832.92,781.68 C834.26,782.06 835.60,782.44 836.94,782.82 C838.28,783.20 839.62,783.58 840.96,783.97 C842.29,784.36 843.63,784.74 844.97,785.14 C846.31,785.53 847.65,785.92 848.99,786.31 C850.33,786.71 851.67,787.11 853.00,787.51 C854.34,787.91 855.68,788.31 857.02,788.71 C858.36,789.12 859.70,789.53 861.04,789.94 C862.38,790.35 863.71,790.76 865.05,791.17 C866.39,791.59 867.73,792.00 869.07,792.42 C870.41,792.84 871.75,793.26 873.09,793.68 C874.42,794.11 875.76,794.53 877.10,794.96 C878.44,795.39 879.78,795.82 881.12,796.26 C882.46,796.69 883.80,797.13 885.13,797.56 C886.47,798.00 887.81,798.44 889.15,798.89 C890.49,799.33 891.83,799.78 893.17,800.22 C894.51,800.67 895.84,801.12 897.18,801.58 C898.52,802.03 900.53,802.72 901.20,802.94"/></g>
<g font-family="Liberation Sans, sans-serif" font-weight="bold" stroke="#000" stroke-width="0.35" font-size="16.5" fill="#000"><text x="191.50" y="147.80" text-anchor="middle" textLength="28.0" lengthAdjust="spacingAndGlyphs">210</text><text x="192.00" y="216.80" text-anchor="middle" textLength="28.0" lengthAdjust="spacingAndGlyphs">180</text><text x="190.00" y="315.30" text-anchor="middle" textLength="28.0" lengthAdjust="spacingAndGlyphs">150</text><text x="190.00" y="337.80" text-anchor="middle" textLength="28.0" lengthAdjust="spacingAndGlyphs">140</text><text x="188.00" y="431.30" text-anchor="middle" textLength="28.0" lengthAdjust="spacingAndGlyphs">125</text><text x="187.50" y="470.30" text-anchor="middle" textLength="28.0" lengthAdjust="spacingAndGlyphs">100</text><text x="185.00" y="526.40" text-anchor="middle" textLength="18.5" lengthAdjust="spacingAndGlyphs">75</text><text x="188.75" y="629.20" text-anchor="middle" textLength="18.5" lengthAdjust="spacingAndGlyphs">50</text><text x="188.75" y="665.80" text-anchor="middle" textLength="18.5" lengthAdjust="spacingAndGlyphs">35</text><text x="188.75" y="704.20" text-anchor="middle" textLength="18.5" lengthAdjust="spacingAndGlyphs">25</text></g>
<g font-family="Liberation Sans, sans-serif" font-weight="bold" stroke="#000" stroke-width="0.35" font-size="16.5" fill="#000"><text x="89.3" y="755.10" text-anchor="end" textLength="19.0" lengthAdjust="spacingAndGlyphs">20</text><text x="89.3" y="701.60" text-anchor="end" textLength="19.0" lengthAdjust="spacingAndGlyphs">40</text><text x="89.3" y="648.10" text-anchor="end" textLength="19.0" lengthAdjust="spacingAndGlyphs">60</text><text x="89.3" y="594.60" text-anchor="end" textLength="19.0" lengthAdjust="spacingAndGlyphs">80</text><text x="89.3" y="541.10" text-anchor="end" textLength="28.0" lengthAdjust="spacingAndGlyphs">100</text><text x="89.3" y="487.60" text-anchor="end" textLength="28.0" lengthAdjust="spacingAndGlyphs">120</text><text x="89.3" y="434.10" text-anchor="end" textLength="28.0" lengthAdjust="spacingAndGlyphs">140</text><text x="89.3" y="380.60" text-anchor="end" textLength="28.0" lengthAdjust="spacingAndGlyphs">160</text><text x="89.3" y="327.10" text-anchor="end" textLength="28.0" lengthAdjust="spacingAndGlyphs">180</text><text x="89.3" y="273.60" text-anchor="end" textLength="28.0" lengthAdjust="spacingAndGlyphs">200</text><text x="89.3" y="220.10" text-anchor="end" textLength="28.0" lengthAdjust="spacingAndGlyphs">220</text><text x="89.3" y="166.60" text-anchor="end" textLength="28.0" lengthAdjust="spacingAndGlyphs">240</text><text x="89.3" y="113.10" text-anchor="end" textLength="28.0" lengthAdjust="spacingAndGlyphs">260</text><text x="91.60" y="821.6" text-anchor="middle" textLength="9.3" lengthAdjust="spacingAndGlyphs">0</text><text x="165.21" y="821.6" text-anchor="middle" textLength="18.5" lengthAdjust="spacingAndGlyphs">20</text><text x="238.82" y="821.6" text-anchor="middle" textLength="18.5" lengthAdjust="spacingAndGlyphs">40</text><text x="312.43" y="821.6" text-anchor="middle" textLength="18.5" lengthAdjust="spacingAndGlyphs">60</text><text x="386.04" y="821.6" text-anchor="middle" textLength="18.5" lengthAdjust="spacingAndGlyphs">80</text><text x="459.65" y="821.6" text-anchor="middle" textLength="28.0" lengthAdjust="spacingAndGlyphs">100</text><text x="533.26" y="821.6" text-anchor="middle" textLength="28.0" lengthAdjust="spacingAndGlyphs">120</text><text x="606.87" y="821.6" text-anchor="middle" textLength="28.0" lengthAdjust="spacingAndGlyphs">140</text><text x="680.48" y="821.6" text-anchor="middle" textLength="28.0" lengthAdjust="spacingAndGlyphs">160</text><text x="754.09" y="821.6" text-anchor="middle" textLength="28.0" lengthAdjust="spacingAndGlyphs">180</text><text x="827.70" y="821.6" text-anchor="middle" textLength="28.0" lengthAdjust="spacingAndGlyphs">200</text><text x="893.80" y="821.6" text-anchor="middle" textLength="28.0" lengthAdjust="spacingAndGlyphs">220</text><text x="91" y="57.8" text-anchor="end" textLength="34.5" lengthAdjust="spacingAndGlyphs">H, м</text><text x="823" y="834" font-size="14.5" textLength="77.5" lengthAdjust="spacingAndGlyphs">Q, м<tspan font-size="9.5" dy="-5">3</tspan><tspan dy="5">/час</tspan></text></g>
<g stroke="#d5d5d5" stroke-width="2"><line x1="111.10" y1="853.41" x2="111.10" y2="1099.20"/><line x1="129.50" y1="853.41" x2="129.50" y2="1099.20"/><line x1="147.90" y1="853.41" x2="147.90" y2="1099.20"/><line x1="184.70" y1="853.41" x2="184.70" y2="1099.20"/><line x1="203.10" y1="853.41" x2="203.10" y2="1099.20"/><line x1="221.50" y1="853.41" x2="221.50" y2="1099.20"/><line x1="258.30" y1="853.41" x2="258.30" y2="1099.20"/><line x1="276.70" y1="853.41" x2="276.70" y2="1099.20"/><line x1="295.10" y1="853.41" x2="295.10" y2="1099.20"/><line x1="331.90" y1="853.41" x2="331.90" y2="1099.20"/><line x1="350.30" y1="853.41" x2="350.30" y2="1099.20"/><line x1="368.70" y1="853.41" x2="368.70" y2="1099.20"/><line x1="405.50" y1="853.41" x2="405.50" y2="1099.20"/><line x1="423.90" y1="853.41" x2="423.90" y2="1099.20"/><line x1="442.30" y1="853.41" x2="442.30" y2="1099.20"/><line x1="479.10" y1="853.41" x2="479.10" y2="1099.20"/><line x1="497.50" y1="853.41" x2="497.50" y2="1099.20"/><line x1="515.90" y1="853.41" x2="515.90" y2="1099.20"/><line x1="552.70" y1="853.41" x2="552.70" y2="1099.20"/><line x1="571.10" y1="853.41" x2="571.10" y2="1099.20"/><line x1="589.50" y1="853.41" x2="589.50" y2="1099.20"/><line x1="626.30" y1="853.41" x2="626.30" y2="1099.20"/><line x1="644.70" y1="853.41" x2="644.70" y2="1099.20"/><line x1="663.10" y1="853.41" x2="663.10" y2="1099.20"/><line x1="699.90" y1="853.41" x2="699.90" y2="1099.20"/><line x1="718.30" y1="853.41" x2="718.30" y2="1099.20"/><line x1="736.70" y1="853.41" x2="736.70" y2="1099.20"/><line x1="773.50" y1="853.41" x2="773.50" y2="1099.20"/><line x1="791.90" y1="853.41" x2="791.90" y2="1099.20"/><line x1="810.30" y1="853.41" x2="810.30" y2="1099.20"/><line x1="847.10" y1="853.41" x2="847.10" y2="1099.20"/><line x1="865.50" y1="853.41" x2="865.50" y2="1099.20"/><line x1="883.90" y1="853.41" x2="883.90" y2="1099.20"/></g>
<g stroke="#404040" stroke-width="2"><line x1="93.00" y1="1071.89" x2="901.30" y2="1071.89"/><line x1="93.00" y1="1044.58" x2="901.30" y2="1044.58"/><line x1="93.00" y1="1017.27" x2="901.30" y2="1017.27"/><line x1="93.00" y1="989.96" x2="901.30" y2="989.96"/><line x1="93.00" y1="962.65" x2="901.30" y2="962.65"/><line x1="93.00" y1="935.34" x2="901.30" y2="935.34"/><line x1="93.00" y1="908.03" x2="901.30" y2="908.03"/><line x1="93.00" y1="880.72" x2="901.30" y2="880.72"/><line x1="166.30" y1="853.41" x2="166.30" y2="1099.20"/><line x1="239.90" y1="853.41" x2="239.90" y2="1099.20"/><line x1="313.50" y1="853.41" x2="313.50" y2="1099.20"/><line x1="387.10" y1="853.41" x2="387.10" y2="1099.20"/><line x1="460.70" y1="853.41" x2="460.70" y2="1099.20"/><line x1="534.30" y1="853.41" x2="534.30" y2="1099.20"/><line x1="607.90" y1="853.41" x2="607.90" y2="1099.20"/><line x1="681.50" y1="853.41" x2="681.50" y2="1099.20"/><line x1="755.10" y1="853.41" x2="755.10" y2="1099.20"/><line x1="828.70" y1="853.41" x2="828.70" y2="1099.20"/></g>
<rect x="93.00" y="853.41" width="808.30" height="245.79" fill="none" stroke="#404040" stroke-width="1.8"/>
<g fill="none" stroke="#0a0a0a" stroke-width="3.05"><path d="M93.00,1092.45 C93.67,1092.03 95.67,1090.76 97.00,1089.92 C98.33,1089.08 99.67,1088.25 101.00,1087.42 C102.34,1086.59 103.67,1085.76 105.00,1084.94 C106.34,1084.12 107.67,1083.30 109.00,1082.48 C110.34,1081.67 111.67,1080.85 113.00,1080.04 C114.34,1079.24 115.67,1078.43 117.01,1077.63 C118.34,1076.82 119.67,1076.02 121.01,1075.22 C122.34,1074.43 123.67,1073.63 125.01,1072.84 C126.34,1072.05 127.68,1071.26 129.01,1070.47 C130.34,1069.68 131.68,1068.90 133.01,1068.11 C134.34,1067.33 135.68,1066.55 137.01,1065.77 C138.34,1064.99 139.68,1064.22 141.01,1063.44 C142.35,1062.67 143.68,1061.90 145.01,1061.13 C146.35,1060.36 147.68,1059.59 149.01,1058.82 C150.35,1058.05 151.68,1057.29 153.01,1056.52 C154.35,1055.76 155.68,1055.00 157.02,1054.24 C158.35,1053.48 159.68,1052.72 161.02,1051.96 C162.35,1051.20 163.68,1050.44 165.02,1049.68 C166.35,1048.93 167.69,1048.17 169.02,1047.41 C170.35,1046.66 171.69,1045.90 173.02,1045.15 C174.35,1044.40 175.69,1043.64 177.02,1042.89 C178.35,1042.14 179.69,1041.38 181.02,1040.63 C182.36,1039.88 183.69,1039.12 185.02,1038.37 C186.36,1037.62 187.69,1036.87 189.02,1036.12 C190.36,1035.36 191.69,1034.61 193.02,1033.86 C194.36,1033.11 195.69,1032.35 197.03,1031.60 C198.36,1030.85 199.69,1030.09 201.03,1029.34 C202.36,1028.58 203.69,1027.83 205.03,1027.07 C206.36,1026.31 207.70,1025.56 209.03,1024.80 C210.36,1024.04 211.70,1023.28 213.03,1022.52 C214.36,1021.76 215.70,1021.00 217.03,1020.24 C218.36,1019.48 219.70,1018.71 221.03,1017.95 C222.37,1017.18 223.70,1016.42 225.03,1015.65 C226.37,1014.88 227.70,1014.11 229.03,1013.34 C230.37,1012.57 231.70,1011.79 233.03,1011.02 C234.37,1010.24 235.70,1009.46 237.04,1008.68 C238.37,1007.90 239.70,1007.12 241.04,1006.34 C242.37,1005.55 243.70,1004.77 245.04,1003.98 C246.37,1003.19 247.70,1002.40 249.04,1001.61 C250.37,1000.82 251.71,1000.03 253.04,999.24 C254.37,998.44 255.71,997.65 257.04,996.86 C258.37,996.07 259.71,995.27 261.04,994.48 C262.38,993.69 263.71,992.90 265.04,992.11 C266.38,991.32 267.71,990.53 269.04,989.75 C270.38,988.96 271.71,988.17 273.04,987.39 C274.38,986.61 275.71,985.83 277.05,985.05 C278.38,984.28 279.71,983.50 281.05,982.73 C282.38,981.96 283.71,981.19 285.05,980.43 C286.38,979.66 287.71,978.90 289.05,978.15 C290.38,977.40 291.72,976.64 293.05,975.90 C294.38,975.15 295.72,974.41 297.05,973.68 C298.38,972.95 299.72,972.22 301.05,971.49 C302.39,970.77 303.72,970.05 305.05,969.35 C306.39,968.64 307.72,967.93 309.05,967.24 C310.39,966.54 311.72,965.85 313.05,965.17 C314.39,964.49 315.72,963.82 317.06,963.16 C318.39,962.49 319.72,961.83 321.06,961.18 C322.39,960.53 323.72,959.89 325.06,959.25 C326.39,958.62 327.72,957.99 329.06,957.36 C330.39,956.74 331.73,956.12 333.06,955.51 C334.39,954.89 335.73,954.29 337.06,953.68 C338.39,953.08 339.73,952.48 341.06,951.89 C342.40,951.30 343.73,950.71 345.06,950.13 C346.40,949.54 347.73,948.96 349.06,948.39 C350.40,947.81 351.73,947.24 353.06,946.67 C354.40,946.10 355.73,945.54 357.07,944.97 C358.40,944.41 359.73,943.85 361.07,943.30 C362.40,942.74 363.73,942.19 365.07,941.64 C366.40,941.09 367.73,940.55 369.07,940.01 C370.40,939.47 371.74,938.93 373.07,938.39 C374.40,937.86 375.74,937.33 377.07,936.80 C378.40,936.27 379.74,935.75 381.07,935.23 C382.40,934.71 383.74,934.20 385.07,933.69 C386.41,933.17 387.74,932.67 389.07,932.16 C390.41,931.66 391.74,931.16 393.07,930.66 C394.41,930.16 395.74,929.67 397.08,929.18 C398.41,928.69 399.74,928.21 401.08,927.73 C402.41,927.25 403.74,926.77 405.08,926.30 C406.41,925.83 407.74,925.36 409.08,924.89 C410.41,924.43 411.75,923.97 413.08,923.51 C414.41,923.06 415.75,922.61 417.08,922.16 C418.41,921.71 419.75,921.27 421.08,920.83 C422.41,920.39 423.75,919.95 425.08,919.52 C426.42,919.09 427.75,918.67 429.08,918.25 C430.42,917.82 431.75,917.41 433.08,916.99 C434.42,916.58 435.75,916.17 437.09,915.77 C438.42,915.37 439.75,914.97 441.09,914.57 C442.42,914.18 443.75,913.79 445.09,913.40 C446.42,913.02 447.75,912.63 449.09,912.26 C450.42,911.88 451.76,911.51 453.09,911.14 C454.42,910.78 455.76,910.42 457.09,910.06 C458.42,909.70 459.76,909.35 461.09,909.00 C462.42,908.65 463.76,908.31 465.09,907.97 C466.43,907.63 467.76,907.30 469.09,906.97 C470.43,906.64 471.76,906.32 473.09,906.00 C474.43,905.68 475.76,905.36 477.10,905.05 C478.43,904.74 479.76,904.43 481.10,904.13 C482.43,903.83 483.76,903.53 485.10,903.23 C486.43,902.94 487.76,902.65 489.10,902.36 C490.43,902.08 491.77,901.79 493.10,901.51 C494.43,901.23 495.77,900.96 497.10,900.69 C498.43,900.42 499.77,900.15 501.10,899.88 C502.43,899.62 503.77,899.36 505.10,899.10 C506.44,898.84 507.77,898.59 509.10,898.34 C510.44,898.09 511.77,897.84 513.10,897.59 C514.44,897.35 515.77,897.11 517.10,896.87 C518.44,896.63 519.77,896.40 521.11,896.16 C522.44,895.93 523.77,895.70 525.11,895.47 C526.44,895.25 527.77,895.02 529.11,894.80 C530.44,894.58 531.78,894.36 533.11,894.14 C534.44,893.93 535.78,893.71 537.11,893.50 C538.44,893.29 539.78,893.08 541.11,892.88 C542.44,892.67 543.78,892.47 545.11,892.26 C546.45,892.06 547.78,891.87 549.11,891.67 C550.45,891.47 551.78,891.28 553.11,891.09 C554.45,890.90 555.78,890.71 557.11,890.53 C558.45,890.34 559.78,890.16 561.12,889.98 C562.45,889.80 563.78,889.63 565.12,889.46 C566.45,889.28 567.78,889.11 569.12,888.94 C570.45,888.78 571.79,888.61 573.12,888.45 C574.45,888.29 575.79,888.13 577.12,887.98 C578.45,887.82 579.79,887.67 581.12,887.52 C582.45,887.37 583.79,887.23 585.12,887.08 C586.46,886.94 587.79,886.80 589.12,886.67 C590.46,886.53 591.79,886.40 593.12,886.27 C594.46,886.14 595.79,886.01 597.12,885.89 C598.46,885.77 599.79,885.65 601.13,885.53 C602.46,885.41 603.79,885.30 605.13,885.19 C606.46,885.08 607.79,884.98 609.13,884.87 C610.46,884.77 611.80,884.67 613.13,884.58 C614.46,884.48 615.80,884.39 617.13,884.30 C618.46,884.21 619.80,884.13 621.13,884.04 C622.46,883.96 623.80,883.88 625.13,883.81 C626.47,883.73 627.80,883.66 629.13,883.59 C630.47,883.52 631.80,883.46 633.13,883.39 C634.47,883.33 635.80,883.27 637.13,883.22 C638.47,883.16 639.80,883.11 641.14,883.06 C642.47,883.01 643.80,882.96 645.14,882.92 C646.47,882.87 647.80,882.83 649.14,882.79 C650.47,882.75 651.80,882.72 653.14,882.69 C654.47,882.66 655.81,882.63 657.14,882.60 C658.47,882.57 659.81,882.55 661.14,882.53 C662.47,882.51 663.81,882.49 665.14,882.48 C666.48,882.46 667.81,882.45 669.14,882.44 C670.48,882.43 671.81,882.42 673.14,882.42 C674.48,882.41 675.81,882.41 677.14,882.41 C678.48,882.41 679.81,882.42 681.15,882.42 C682.48,882.43 683.81,882.44 685.15,882.45 C686.48,882.46 687.81,882.47 689.15,882.49 C690.48,882.51 691.81,882.52 693.15,882.55 C694.48,882.57 695.82,882.59 697.15,882.62 C698.48,882.64 699.82,882.67 701.15,882.70 C702.48,882.73 703.82,882.76 705.15,882.80 C706.49,882.83 707.82,882.87 709.15,882.91 C710.49,882.95 711.82,882.99 713.15,883.03 C714.49,883.08 715.82,883.12 717.15,883.17 C718.49,883.22 719.82,883.27 721.16,883.32 C722.49,883.37 723.82,883.43 725.16,883.48 C726.49,883.54 727.82,883.60 729.16,883.66 C730.49,883.72 731.82,883.78 733.16,883.84 C734.49,883.91 735.83,883.97 737.16,884.04 C738.49,884.11 739.83,884.18 741.16,884.25 C742.49,884.32 743.83,884.39 745.16,884.47 C746.50,884.54 747.83,884.62 749.16,884.70 C750.50,884.78 751.83,884.86 753.16,884.94 C754.50,885.02 755.83,885.10 757.16,885.19 C758.50,885.27 759.83,885.36 761.17,885.45 C762.50,885.53 763.83,885.62 765.17,885.72 C766.50,885.81 767.83,885.90 769.17,886.00 C770.50,886.10 771.83,886.19 773.17,886.29 C774.50,886.40 775.84,886.50 777.17,886.60 C778.50,886.71 779.84,886.82 781.17,886.93 C782.50,887.04 783.84,887.15 785.17,887.27 C786.50,887.38 787.84,887.50 789.17,887.63 C790.51,887.75 791.84,887.87 793.17,888.00 C794.51,888.13 795.84,888.26 797.17,888.39 C798.51,888.53 799.84,888.66 801.18,888.80 C802.51,888.95 803.84,889.09 805.18,889.24 C806.51,889.38 807.84,889.54 809.18,889.69 C810.51,889.85 811.84,890.00 813.18,890.17 C814.51,890.33 815.85,890.50 817.18,890.67 C818.51,890.84 819.85,891.01 821.18,891.19 C822.51,891.37 823.85,891.55 825.18,891.74 C826.51,891.92 827.85,892.11 829.18,892.31 C830.52,892.51 831.85,892.71 833.18,892.91 C834.52,893.12 835.85,893.32 837.18,893.54 C838.52,893.75 839.85,893.97 841.19,894.20 C842.52,894.42 843.85,894.65 845.19,894.88 C846.52,895.12 847.85,895.35 849.19,895.60 C850.52,895.84 851.85,896.09 853.19,896.35 C854.52,896.60 855.86,896.86 857.19,897.13 C858.52,897.39 859.86,897.66 861.19,897.94 C862.52,898.22 863.86,898.50 865.19,898.79 C866.52,899.08 867.86,899.37 869.19,899.67 C870.53,899.97 871.86,900.28 873.19,900.59 C874.53,900.90 875.86,901.22 877.19,901.54 C878.53,901.87 879.86,902.20 881.20,902.54 C882.53,902.88 883.86,903.22 885.20,903.57 C886.53,903.92 887.86,904.28 889.20,904.64 C890.53,905.01 891.86,905.38 893.20,905.75 C894.53,906.13 895.87,906.52 897.20,906.91 C898.53,907.30 900.53,907.90 901.20,908.10"/><path d="M93.00,966.51 C93.67,966.50 95.67,966.46 97.00,966.44 C98.33,966.41 99.67,966.39 101.00,966.36 C102.34,966.33 103.67,966.29 105.00,966.26 C106.34,966.22 107.67,966.18 109.00,966.14 C110.34,966.10 111.67,966.06 113.00,966.01 C114.34,965.97 115.67,965.92 117.01,965.87 C118.34,965.82 119.67,965.76 121.01,965.71 C122.34,965.65 123.67,965.59 125.01,965.53 C126.34,965.47 127.68,965.41 129.01,965.34 C130.34,965.28 131.68,965.21 133.01,965.14 C134.34,965.07 135.68,965.00 137.01,964.92 C138.34,964.85 139.68,964.77 141.01,964.69 C142.35,964.61 143.68,964.53 145.01,964.45 C146.35,964.36 147.68,964.28 149.01,964.19 C150.35,964.10 151.68,964.01 153.01,963.92 C154.35,963.83 155.68,963.73 157.02,963.64 C158.35,963.54 159.68,963.44 161.02,963.34 C162.35,963.24 163.68,963.14 165.02,963.04 C166.35,962.93 167.69,962.83 169.02,962.72 C170.35,962.61 171.69,962.50 173.02,962.39 C174.35,962.27 175.69,962.16 177.02,962.04 C178.35,961.93 179.69,961.81 181.02,961.69 C182.36,961.57 183.69,961.45 185.02,961.33 C186.36,961.20 187.69,961.08 189.02,960.95 C190.36,960.83 191.69,960.70 193.02,960.57 C194.36,960.44 195.69,960.31 197.03,960.17 C198.36,960.04 199.69,959.91 201.03,959.77 C202.36,959.63 203.69,959.49 205.03,959.35 C206.36,959.22 207.70,959.07 209.03,958.93 C210.36,958.79 211.70,958.64 213.03,958.50 C214.36,958.35 215.70,958.21 217.03,958.06 C218.36,957.91 219.70,957.76 221.03,957.61 C222.37,957.46 223.70,957.30 225.03,957.15 C226.37,956.99 227.70,956.84 229.03,956.68 C230.37,956.52 231.70,956.37 233.03,956.21 C234.37,956.05 235.70,955.89 237.04,955.72 C238.37,955.56 239.70,955.40 241.04,955.24 C242.37,955.07 243.70,954.91 245.04,954.74 C246.37,954.57 247.70,954.40 249.04,954.24 C250.37,954.07 251.71,953.90 253.04,953.73 C254.37,953.55 255.71,953.38 257.04,953.21 C258.37,953.04 259.71,952.86 261.04,952.69 C262.38,952.51 263.71,952.34 265.04,952.16 C266.38,951.98 267.71,951.80 269.04,951.63 C270.38,951.45 271.71,951.27 273.04,951.09 C274.38,950.91 275.71,950.72 277.05,950.54 C278.38,950.36 279.71,950.18 281.05,949.99 C282.38,949.81 283.71,949.62 285.05,949.44 C286.38,949.25 287.71,949.07 289.05,948.88 C290.38,948.69 291.72,948.51 293.05,948.32 C294.38,948.13 295.72,947.94 297.05,947.75 C298.38,947.56 299.72,947.37 301.05,947.18 C302.39,946.99 303.72,946.80 305.05,946.61 C306.39,946.42 307.72,946.23 309.05,946.04 C310.39,945.84 311.72,945.65 313.05,945.46 C314.39,945.26 315.72,945.07 317.06,944.88 C318.39,944.68 319.72,944.49 321.06,944.29 C322.39,944.10 323.72,943.90 325.06,943.71 C326.39,943.51 327.72,943.32 329.06,943.12 C330.39,942.92 331.73,942.73 333.06,942.53 C334.39,942.33 335.73,942.14 337.06,941.94 C338.39,941.74 339.73,941.55 341.06,941.35 C342.40,941.15 343.73,940.95 345.06,940.76 C346.40,940.56 347.73,940.36 349.06,940.16 C350.40,939.97 351.73,939.77 353.06,939.57 C354.40,939.37 355.73,939.17 357.07,938.98 C358.40,938.78 359.73,938.58 361.07,938.38 C362.40,938.19 363.73,937.99 365.07,937.79 C366.40,937.59 367.73,937.40 369.07,937.20 C370.40,937.00 371.74,936.81 373.07,936.61 C374.40,936.41 375.74,936.22 377.07,936.02 C378.40,935.82 379.74,935.63 381.07,935.43 C382.40,935.24 383.74,935.04 385.07,934.84 C386.41,934.65 387.74,934.45 389.07,934.26 C390.41,934.07 391.74,933.87 393.07,933.68 C394.41,933.48 395.74,933.29 397.08,933.10 C398.41,932.90 399.74,932.71 401.08,932.52 C402.41,932.33 403.74,932.13 405.08,931.94 C406.41,931.75 407.74,931.56 409.08,931.37 C410.41,931.18 411.75,930.99 413.08,930.80 C414.41,930.61 415.75,930.42 417.08,930.23 C418.41,930.04 419.75,929.85 421.08,929.67 C422.41,929.48 423.75,929.29 425.08,929.10 C426.42,928.92 427.75,928.73 429.08,928.54 C430.42,928.36 431.75,928.17 433.08,927.99 C434.42,927.80 435.75,927.62 437.09,927.43 C438.42,927.25 439.75,927.07 441.09,926.88 C442.42,926.70 443.75,926.52 445.09,926.34 C446.42,926.16 447.75,925.97 449.09,925.79 C450.42,925.61 451.76,925.43 453.09,925.25 C454.42,925.07 455.76,924.90 457.09,924.72 C458.42,924.54 459.76,924.36 461.09,924.19 C462.42,924.01 463.76,923.83 465.09,923.66 C466.43,923.48 467.76,923.31 469.09,923.13 C470.43,922.96 471.76,922.78 473.09,922.61 C474.43,922.44 475.76,922.26 477.10,922.09 C478.43,921.92 479.76,921.75 481.10,921.58 C482.43,921.41 483.76,921.24 485.10,921.07 C486.43,920.90 487.76,920.73 489.10,920.57 C490.43,920.40 491.77,920.23 493.10,920.07 C494.43,919.90 495.77,919.74 497.10,919.57 C498.43,919.41 499.77,919.24 501.10,919.08 C502.43,918.92 503.77,918.76 505.10,918.60 C506.44,918.43 507.77,918.27 509.10,918.11 C510.44,917.96 511.77,917.80 513.10,917.64 C514.44,917.48 515.77,917.32 517.10,917.17 C518.44,917.01 519.77,916.86 521.11,916.70 C522.44,916.55 523.77,916.39 525.11,916.24 C526.44,916.09 527.77,915.93 529.11,915.78 C530.44,915.63 531.78,915.48 533.11,915.33 C534.44,915.18 535.78,915.04 537.11,914.89 C538.44,914.74 539.78,914.59 541.11,914.45 C542.44,914.30 543.78,914.16 545.11,914.01 C546.45,913.87 547.78,913.73 549.11,913.59 C550.45,913.45 551.78,913.30 553.11,913.16 C554.45,913.02 555.78,912.89 557.11,912.75 C558.45,912.61 559.78,912.47 561.12,912.34 C562.45,912.20 563.78,912.07 565.12,911.93 C566.45,911.80 567.78,911.66 569.12,911.53 C570.45,911.40 571.79,911.26 573.12,911.13 C574.45,911.00 575.79,910.87 577.12,910.73 C578.45,910.60 579.79,910.47 581.12,910.34 C582.45,910.21 583.79,910.08 585.12,909.94 C586.46,909.81 587.79,909.68 589.12,909.55 C590.46,909.42 591.79,909.29 593.12,909.15 C594.46,909.02 595.79,908.89 597.12,908.76 C598.46,908.63 599.79,908.49 601.13,908.36 C602.46,908.23 603.79,908.09 605.13,907.96 C606.46,907.82 607.79,907.69 609.13,907.55 C610.46,907.42 611.80,907.28 613.13,907.14 C614.46,907.00 615.80,906.87 617.13,906.73 C618.46,906.59 619.80,906.45 621.13,906.31 C622.46,906.17 623.80,906.03 625.13,905.89 C626.47,905.74 627.80,905.60 629.13,905.46 C630.47,905.32 631.80,905.17 633.13,905.03 C634.47,904.89 635.80,904.74 637.13,904.60 C638.47,904.45 639.80,904.31 641.14,904.16 C642.47,904.02 643.80,903.87 645.14,903.73 C646.47,903.58 647.80,903.43 649.14,903.28 C650.47,903.14 651.80,902.99 653.14,902.84 C654.47,902.69 655.81,902.54 657.14,902.40 C658.47,902.25 659.81,902.10 661.14,901.95 C662.47,901.80 663.81,901.65 665.14,901.50 C666.48,901.35 667.81,901.20 669.14,901.05 C670.48,900.90 671.81,900.75 673.14,900.60 C674.48,900.45 675.81,900.29 677.14,900.14 C678.48,899.99 679.81,899.84 681.15,899.69 C682.48,899.54 683.81,899.38 685.15,899.23 C686.48,899.08 687.81,898.93 689.15,898.78 C690.48,898.62 691.81,898.47 693.15,898.32 C694.48,898.17 695.82,898.02 697.15,897.86 C698.48,897.71 699.82,897.56 701.15,897.41 C702.48,897.25 703.82,897.10 705.15,896.95 C706.49,896.80 707.82,896.65 709.15,896.49 C710.49,896.34 711.82,896.19 713.15,896.04 C714.49,895.89 715.82,895.73 717.15,895.58 C718.49,895.43 719.82,895.28 721.16,895.13 C722.49,894.98 723.82,894.83 725.16,894.68 C726.49,894.53 727.82,894.37 729.16,894.22 C730.49,894.07 731.82,893.92 733.16,893.77 C734.49,893.62 735.83,893.48 737.16,893.33 C738.49,893.18 739.83,893.03 741.16,892.88 C742.49,892.73 743.83,892.58 745.16,892.43 C746.50,892.29 747.83,892.14 749.16,891.99 C750.50,891.85 751.83,891.70 753.16,891.55 C754.50,891.41 755.83,891.26 757.16,891.12 C758.50,890.97 759.83,890.83 761.17,890.68 C762.50,890.54 763.83,890.39 765.17,890.25 C766.50,890.11 767.83,889.97 769.17,889.82 C770.50,889.68 771.83,889.54 773.17,889.40 C774.50,889.26 775.84,889.12 777.17,888.98 C778.50,888.84 779.84,888.70 781.17,888.56 C782.50,888.42 783.84,888.29 785.17,888.15 C786.50,888.01 787.84,887.88 789.17,887.74 C790.51,887.61 791.84,887.47 793.17,887.34 C794.51,887.21 795.84,887.08 797.17,886.95 C798.51,886.82 799.84,886.69 801.18,886.57 C802.51,886.44 803.84,886.32 805.18,886.20 C806.51,886.07 807.84,885.95 809.18,885.84 C810.51,885.72 811.84,885.61 813.18,885.49 C814.51,885.38 815.85,885.27 817.18,885.16 C818.51,885.06 819.85,884.95 821.18,884.85 C822.51,884.75 823.85,884.66 825.18,884.56 C826.51,884.47 827.85,884.38 829.18,884.29 C830.52,884.20 831.85,884.12 833.18,884.04 C834.52,883.96 835.85,883.88 837.18,883.81 C838.52,883.74 839.85,883.67 841.19,883.61 C842.52,883.55 843.85,883.49 845.19,883.43 C846.52,883.38 847.85,883.33 849.19,883.28 C850.52,883.24 851.85,883.20 853.19,883.16 C854.52,883.13 855.86,883.10 857.19,883.08 C858.52,883.05 859.86,883.03 861.19,883.02 C862.52,883.01 863.86,883.00 865.19,883.00 C866.52,883.00 867.86,883.00 869.19,883.01 C870.53,883.02 871.86,883.04 873.19,883.06 C874.53,883.08 875.86,883.11 877.19,883.15 C878.53,883.18 879.86,883.22 881.20,883.27 C882.53,883.32 883.86,883.38 885.20,883.44 C886.53,883.51 887.86,883.58 889.20,883.65 C890.53,883.73 891.86,883.82 893.20,883.91 C894.53,884.00 895.87,884.10 897.20,884.21 C898.53,884.32 900.53,884.50 901.20,884.56"/></g>
<g font-family="Liberation Sans, sans-serif" font-weight="bold" stroke="#000" stroke-width="0.35" font-size="16.5" fill="#000"><text x="88.6" y="1077.29" text-anchor="end" textLength="19.6" lengthAdjust="spacingAndGlyphs">10</text><text x="910.6" y="1078.29" textLength="23.6" lengthAdjust="spacingAndGlyphs">2,0</text><text x="88.6" y="1049.98" text-anchor="end" textLength="19.6" lengthAdjust="spacingAndGlyphs">20</text><text x="910.6" y="1050.98" textLength="23.6" lengthAdjust="spacingAndGlyphs">4,0</text><text x="88.6" y="1022.67" text-anchor="end" textLength="19.6" lengthAdjust="spacingAndGlyphs">30</text><text x="910.6" y="1023.67" textLength="23.6" lengthAdjust="spacingAndGlyphs">6,0</text><text x="88.6" y="995.36" text-anchor="end" textLength="19.6" lengthAdjust="spacingAndGlyphs">40</text><text x="910.6" y="996.36" textLength="23.6" lengthAdjust="spacingAndGlyphs">8,0</text><text x="88.6" y="968.05" text-anchor="end" textLength="19.6" lengthAdjust="spacingAndGlyphs">50</text><text x="906.6" y="969.05" textLength="33.0" lengthAdjust="spacingAndGlyphs">10,0</text><text x="88.6" y="940.74" text-anchor="end" textLength="19.6" lengthAdjust="spacingAndGlyphs">60</text><text x="906.6" y="941.74" textLength="33.0" lengthAdjust="spacingAndGlyphs">12,0</text><text x="88.6" y="913.43" text-anchor="end" textLength="19.6" lengthAdjust="spacingAndGlyphs">70</text><text x="906.6" y="914.43" textLength="33.0" lengthAdjust="spacingAndGlyphs">14,0</text><text x="88.6" y="886.12" text-anchor="end" textLength="19.6" lengthAdjust="spacingAndGlyphs">80</text><text x="906.6" y="887.12" textLength="33.0" lengthAdjust="spacingAndGlyphs">16,0</text><text x="92.70" y="1115.6" text-anchor="middle" textLength="9.3" lengthAdjust="spacingAndGlyphs">0</text><text x="166.30" y="1115.6" text-anchor="middle" textLength="18.5" lengthAdjust="spacingAndGlyphs">20</text><text x="239.90" y="1115.6" text-anchor="middle" textLength="18.5" lengthAdjust="spacingAndGlyphs">40</text><text x="313.50" y="1115.6" text-anchor="middle" textLength="18.5" lengthAdjust="spacingAndGlyphs">60</text><text x="387.10" y="1115.6" text-anchor="middle" textLength="18.5" lengthAdjust="spacingAndGlyphs">80</text><text x="460.70" y="1115.6" text-anchor="middle" textLength="28.0" lengthAdjust="spacingAndGlyphs">100</text><text x="534.30" y="1115.6" text-anchor="middle" textLength="28.0" lengthAdjust="spacingAndGlyphs">120</text><text x="607.90" y="1115.6" text-anchor="middle" textLength="28.0" lengthAdjust="spacingAndGlyphs">140</text><text x="681.50" y="1115.6" text-anchor="middle" textLength="28.0" lengthAdjust="spacingAndGlyphs">160</text><text x="755.10" y="1115.6" text-anchor="middle" textLength="28.0" lengthAdjust="spacingAndGlyphs">180</text><text x="828.70" y="1115.6" text-anchor="middle" textLength="28.0" lengthAdjust="spacingAndGlyphs">200</text><text x="900.00" y="1115.6" text-anchor="middle" textLength="28.0" lengthAdjust="spacingAndGlyphs">220</text><text x="54.9" y="857" textLength="15" lengthAdjust="spacingAndGlyphs">η,</text><text x="90" y="857.3" text-anchor="end" font-weight="normal" font-size="16" stroke-width="0.7">%</text><text x="906.8" y="859.3" textLength="57" lengthAdjust="spacingAndGlyphs">P<tspan font-size="10" dy="0.8">2</tspan><tspan dy="-0.8">, кВт</tspan></text><text x="821.5" y="1130.8" font-size="14.5" textLength="76.5" lengthAdjust="spacingAndGlyphs">Q, м<tspan font-size="9.5" dy="-5">3</tspan><tspan dy="5">/час</tspan></text><text x="482" y="894">η</text><text x="573" y="926">P<tspan font-size="11" dy="1">2</tspan></text></g>
</svg></body></html>
